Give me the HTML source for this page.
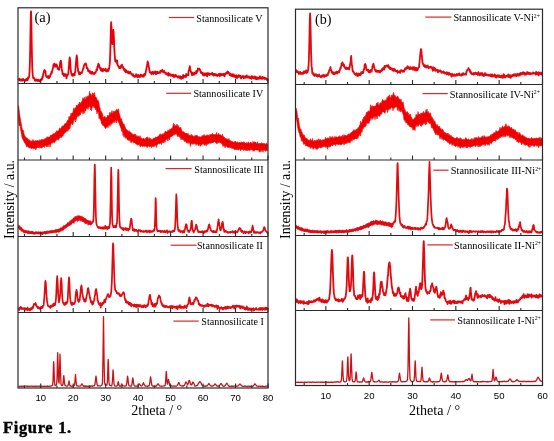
<!DOCTYPE html><html><head><meta charset="utf-8"><style>html,body{margin:0;padding:0;background:#fff;width:554px;height:441px;overflow:hidden}svg{display:block;filter:blur(0.35px)}</style></head><body><svg width="554" height="441" viewBox="0 0 554 441">
<rect width="554" height="441" fill="#ffffff"/>
<path d="M18.50,105.67 19.00,108.92 19.50,112.59 20.00,116.61 20.50,120.12 21.00,122.46 21.50,124.63 22.00,127.95 22.50,130.17 23.00,129.72 23.50,130.77 24.00,133.86 24.50,135.22 25.00,135.92 25.50,137.08 26.00,138.12 26.50,137.83 27.00,137.83 27.50,139.09 28.00,138.64 28.50,139.15 29.00,140.64 29.50,140.32 30.00,139.85 30.50,141.63 31.00,141.50 31.50,140.69 32.00,142.06 32.50,140.35 33.00,139.41 33.50,141.29 34.00,141.19 34.50,141.00 35.00,140.67 35.50,140.37 36.00,141.20 36.50,140.88 37.00,140.88 37.50,140.16 38.00,141.08 38.50,140.90 39.00,140.98 39.50,139.64 40.00,140.78 40.50,140.69 41.00,139.44 41.50,140.37 42.00,138.91 42.50,140.17 43.00,140.01 43.50,139.44 44.00,139.44 44.50,138.97 45.00,138.78 45.50,138.49 46.00,138.08 46.50,138.43 47.00,136.71 47.50,138.03 48.00,136.64 48.50,137.79 49.00,137.08 49.50,136.91 50.00,137.03 50.50,134.91 51.00,135.56 51.50,135.47 52.00,134.59 52.50,134.88 53.00,133.63 53.50,133.88 54.00,133.29 54.50,134.30 55.00,133.26 55.50,132.19 56.00,132.95 56.50,130.67 57.00,131.99 57.50,130.92 58.00,131.08 58.50,130.89 59.00,129.82 59.50,127.88 60.00,128.77 60.50,128.66 61.00,128.99 61.50,127.01 62.00,126.17 62.50,126.46 63.00,125.60 63.50,126.35 64.00,125.28 64.50,124.10 65.00,123.33 65.50,123.82 66.00,123.61 66.50,122.55 67.00,121.32 67.50,120.29 68.00,120.52 68.50,119.94 69.00,116.30 69.50,118.47 70.00,116.12 70.50,116.57 71.00,113.03 71.50,115.09 72.00,113.08 72.50,113.23 73.00,111.99 73.50,108.64 74.00,107.74 74.50,110.22 75.00,108.20 75.50,108.30 76.00,106.92 76.50,105.02 77.00,105.55 77.50,106.30 78.00,104.64 78.50,103.76 79.00,104.71 79.50,102.02 80.00,103.20 80.50,103.23 81.00,102.43 81.50,102.47 82.00,101.10 82.50,99.61 83.00,97.59 83.50,100.31 84.00,98.55 84.50,97.29 85.00,99.87 85.50,99.34 86.00,96.40 86.50,98.54 87.00,97.45 87.50,96.02 88.00,96.18 88.50,95.91 89.00,96.28 89.50,91.18 90.00,95.07 90.50,93.62 91.00,94.35 91.50,95.48 92.00,95.71 92.50,92.85 93.00,93.12 93.50,95.74 94.00,92.95 94.50,92.60 95.00,96.33 95.50,97.01 96.00,97.00 96.50,97.90 97.00,99.34 97.50,101.09 98.00,100.24 98.50,101.28 99.00,103.59 99.50,106.85 100.00,108.00 100.50,110.22 101.00,111.46 101.50,111.75 102.00,113.13 102.50,113.86 103.00,116.90 103.50,117.81 104.00,116.96 104.50,116.56 105.00,116.44 105.50,117.72 106.00,118.12 106.50,117.47 107.00,117.37 107.50,115.01 108.00,116.51 108.50,115.56 109.00,116.22 109.50,113.57 110.00,112.04 110.50,114.55 111.00,113.58 111.50,112.58 112.00,110.53 112.50,113.62 113.00,113.22 113.50,111.22 114.00,111.18 114.50,111.96 115.00,110.97 115.50,111.33 116.00,110.27 116.50,109.16 117.00,110.87 117.50,109.61 118.00,110.88 118.50,108.74 119.00,112.72 119.50,114.13 120.00,116.11 120.50,118.21 121.00,119.23 121.50,118.47 122.00,121.58 122.50,121.67 123.00,123.53 123.50,124.18 124.00,123.92 124.50,125.40 125.00,126.41 125.50,128.36 126.00,128.70 126.50,129.59 127.00,130.07 127.50,130.04 128.00,131.75 128.50,131.78 129.00,130.56 129.50,131.91 130.00,131.96 130.50,132.15 131.00,132.50 131.50,133.00 132.00,134.23 132.50,133.83 133.00,134.92 133.50,134.33 134.00,135.41 134.50,133.94 135.00,135.80 135.50,134.04 136.00,136.20 136.50,135.58 137.00,137.13 137.50,136.95 138.00,135.59 138.50,136.85 139.00,136.69 139.50,137.53 140.00,135.60 140.50,137.74 141.00,138.26 141.50,138.14 142.00,138.25 142.50,139.23 143.00,138.44 143.50,138.36 144.00,138.55 144.50,139.02 145.00,139.39 145.50,138.36 146.00,139.04 146.50,137.07 147.00,139.32 147.50,136.84 148.00,138.47 148.50,139.59 149.00,137.49 149.50,138.77 150.00,138.76 150.50,138.44 151.00,139.57 151.50,139.21 152.00,139.19 152.50,139.39 153.00,139.02 153.50,138.09 154.00,138.42 154.50,138.58 155.00,137.43 155.50,137.42 156.00,136.83 156.50,137.62 157.00,137.17 157.50,136.74 158.00,136.96 158.50,135.78 159.00,136.73 159.50,134.28 160.00,136.31 160.50,133.76 161.00,135.14 161.50,134.69 162.00,134.81 162.50,133.89 163.00,133.51 163.50,134.39 164.00,133.20 164.50,133.08 165.00,132.09 165.50,131.10 166.00,131.17 166.50,131.88 167.00,132.08 167.50,131.70 168.00,129.67 168.50,130.95 169.00,130.72 169.50,130.09 170.00,128.76 170.50,129.55 171.00,129.20 171.50,128.18 172.00,128.39 172.50,127.51 173.00,125.97 173.50,123.06 174.00,125.13 174.50,124.46 175.00,126.16 175.50,125.54 176.00,125.83 176.50,125.35 177.00,124.10 177.50,125.47 178.00,126.69 178.50,125.68 179.00,127.35 179.50,127.93 180.00,127.95 180.50,127.06 181.00,127.90 181.50,130.03 182.00,130.64 182.50,131.61 183.00,132.13 183.50,131.40 184.00,132.83 184.50,132.39 185.00,132.66 185.50,133.86 186.00,133.31 186.50,133.49 187.00,133.50 187.50,134.48 188.00,133.10 188.50,135.14 189.00,135.09 189.50,135.68 190.00,134.63 190.50,135.67 191.00,135.95 191.50,134.28 192.00,135.74 192.50,135.21 193.00,135.88 193.50,136.46 194.00,136.46 194.50,135.74 195.00,136.53 195.50,135.25 196.00,136.13 196.50,134.88 197.00,136.22 197.50,135.83 198.00,136.13 198.50,136.86 199.00,137.22 199.50,136.67 200.00,136.40 200.50,137.03 201.00,137.19 201.50,136.96 202.00,135.66 202.50,136.30 203.00,135.18 203.50,137.06 204.00,134.35 204.50,136.05 205.00,135.83 205.50,135.95 206.00,135.55 206.50,136.08 207.00,134.63 207.50,135.26 208.00,135.15 208.50,135.12 209.00,135.46 209.50,136.11 210.00,134.27 210.50,135.31 211.00,134.45 211.50,134.24 212.00,133.74 212.50,133.32 213.00,135.00 213.50,134.57 214.00,134.12 214.50,134.66 215.00,134.43 215.50,134.41 216.00,134.82 216.50,132.42 217.00,134.84 217.50,134.98 218.00,134.55 218.50,133.26 219.00,134.35 219.50,135.11 220.00,134.78 220.50,134.83 221.00,135.32 221.50,135.87 222.00,135.59 222.50,134.21 223.00,137.27 223.50,136.38 224.00,137.29 224.50,137.44 225.00,138.01 225.50,138.79 226.00,138.60 226.50,139.56 227.00,138.52 227.50,139.29 228.00,139.97 228.50,139.58 229.00,138.50 229.50,141.24 230.00,140.13 230.50,141.53 231.00,140.86 231.50,141.45 232.00,140.93 232.50,141.85 233.00,142.36 233.50,141.97 234.00,142.54 234.50,141.44 235.00,142.71 235.50,141.09 236.00,142.08 236.50,142.79 237.00,142.46 237.50,141.67 238.00,142.22 238.50,143.17 239.00,142.55 239.50,141.94 240.00,142.95 240.50,143.10 241.00,141.96 241.50,141.93 242.00,142.31 242.50,142.49 243.00,142.30 243.50,142.19 244.00,141.63 244.50,142.28 245.00,143.06 245.50,143.33 246.00,143.06 246.50,142.40 247.00,143.39 247.50,142.70 248.00,143.43 248.50,142.01 249.00,142.38 249.50,143.48 250.00,142.60 250.50,142.49 251.00,141.98 251.50,143.29 252.00,143.52 252.50,143.55 253.00,141.36 253.50,142.18 254.00,142.72 254.50,141.63 255.00,142.61 255.50,141.97 256.00,142.36 256.50,143.66 257.00,143.36 257.50,141.74 258.00,143.51 258.50,143.71 259.00,143.30 259.50,143.65 260.00,143.18 260.50,143.53 261.00,142.97 261.50,142.74 262.00,143.97 262.50,143.50 263.00,143.02 263.50,143.33 264.00,144.23 264.50,143.55 265.00,143.47 265.50,144.16 266.00,144.12 266.50,143.21 267.00,143.19 267.50,144.54 267.50,150.59 267.00,150.15 266.50,150.19 266.00,151.47 265.50,151.09 265.00,150.87 264.50,150.58 264.00,149.84 263.50,150.48 263.00,152.22 262.50,150.20 262.00,150.49 261.50,149.79 261.00,152.03 260.50,150.14 260.00,150.77 259.50,152.21 259.00,151.65 258.50,149.54 258.00,150.30 257.50,149.93 257.00,150.01 256.50,150.02 256.00,149.95 255.50,149.68 255.00,150.19 254.50,150.54 254.00,151.42 253.50,150.57 253.00,151.19 252.50,149.69 252.00,149.66 251.50,149.42 251.00,149.73 250.50,149.87 250.00,149.73 249.50,150.67 249.00,150.33 248.50,149.85 248.00,150.67 247.50,149.12 247.00,150.99 246.50,149.64 246.00,150.41 245.50,150.32 245.00,149.56 244.50,149.51 244.00,150.38 243.50,150.31 243.00,149.28 242.50,149.86 242.00,149.20 241.50,148.96 241.00,150.60 240.50,150.78 240.00,148.97 239.50,149.08 239.00,149.24 238.50,150.05 238.00,150.22 237.50,149.79 237.00,148.75 236.50,149.42 236.00,150.00 235.50,148.96 235.00,149.08 234.50,149.88 234.00,148.85 233.50,148.72 233.00,148.19 232.50,147.98 232.00,148.78 231.50,147.75 231.00,147.82 230.50,147.65 230.00,147.35 229.50,147.56 229.00,147.45 228.50,147.44 228.00,147.18 227.50,147.36 227.00,147.31 226.50,146.10 226.00,146.59 225.50,145.78 225.00,147.91 224.50,145.95 224.00,144.87 223.50,145.88 223.00,146.45 222.50,144.94 222.00,143.32 221.50,143.60 221.00,142.91 220.50,142.72 220.00,142.89 219.50,142.28 219.00,142.15 218.50,142.64 218.00,142.69 217.50,141.76 217.00,144.14 216.50,143.09 216.00,142.97 215.50,142.20 215.00,142.30 214.50,141.74 214.00,141.91 213.50,142.43 213.00,142.87 212.50,142.31 212.00,143.14 211.50,142.83 211.00,143.06 210.50,142.96 210.00,143.68 209.50,142.76 209.00,142.67 208.50,143.90 208.00,143.49 207.50,144.52 207.00,143.08 206.50,145.63 206.00,144.39 205.50,144.12 205.00,145.72 204.50,144.26 204.00,144.86 203.50,143.43 203.00,143.88 202.50,143.94 202.00,143.83 201.50,145.19 201.00,143.86 200.50,146.31 200.00,145.99 199.50,143.87 199.00,144.97 198.50,146.00 198.00,144.36 197.50,144.32 197.00,143.72 196.50,144.19 196.00,145.55 195.50,143.37 195.00,143.94 194.50,143.44 194.00,143.63 193.50,143.95 193.00,143.51 192.50,144.37 192.00,143.59 191.50,143.13 191.00,144.24 190.50,146.45 190.00,143.94 189.50,142.98 189.00,142.53 188.50,142.58 188.00,143.75 187.50,142.23 187.00,142.59 186.50,143.22 186.00,141.43 185.50,140.92 185.00,141.93 184.50,141.35 184.00,140.02 183.50,140.04 183.00,139.61 182.50,139.43 182.00,138.59 181.50,138.07 181.00,140.04 180.50,138.07 180.00,136.03 179.50,137.37 179.00,135.27 178.50,135.60 178.00,136.96 177.50,135.42 177.00,135.42 176.50,133.77 176.00,133.75 175.50,134.10 175.00,134.15 174.50,134.63 174.00,135.18 173.50,134.81 173.00,135.61 172.50,135.73 172.00,136.07 171.50,136.50 171.00,136.92 170.50,136.90 170.00,137.28 169.50,139.97 169.00,137.83 168.50,138.65 168.00,140.95 167.50,140.36 167.00,138.99 166.50,139.48 166.00,139.64 165.50,140.09 165.00,142.34 164.50,140.68 164.00,142.60 163.50,141.69 163.00,142.95 162.50,141.75 162.00,142.18 161.50,144.53 161.00,143.40 160.50,143.03 160.00,143.56 159.50,144.19 159.00,143.43 158.50,143.55 158.00,143.98 157.50,144.34 157.00,145.09 156.50,147.43 156.00,145.18 155.50,145.36 155.00,145.30 154.50,146.47 154.00,145.49 153.50,146.86 153.00,145.71 152.50,146.60 152.00,145.64 151.50,147.77 151.00,146.04 150.50,145.65 150.00,147.10 149.50,146.66 149.00,146.45 148.50,145.90 148.00,146.37 147.50,147.13 147.00,147.54 146.50,147.08 146.00,146.37 145.50,145.65 145.00,146.61 144.50,146.25 144.00,146.01 143.50,146.19 143.00,146.31 142.50,146.66 142.00,146.12 141.50,145.41 141.00,145.94 140.50,146.89 140.00,146.42 139.50,144.99 139.00,144.42 138.50,144.16 138.00,145.44 137.50,145.05 137.00,144.25 136.50,144.13 136.00,143.99 135.50,143.20 135.00,143.37 134.50,142.67 134.00,142.53 133.50,142.87 133.00,142.39 132.50,141.83 132.00,141.45 131.50,142.22 131.00,142.91 130.50,141.58 130.00,139.99 129.50,140.49 129.00,139.74 128.50,140.52 128.00,138.72 127.50,140.14 127.00,138.74 126.50,137.89 126.00,137.50 125.50,138.34 125.00,136.64 124.50,134.42 124.00,137.47 123.50,132.56 123.00,135.53 122.50,130.58 122.00,131.55 121.50,131.13 121.00,128.10 120.50,127.51 120.00,125.67 119.50,125.04 119.00,122.46 118.50,122.54 118.00,120.90 117.50,120.23 117.00,120.71 116.50,122.92 116.00,120.53 115.50,120.11 115.00,122.35 114.50,121.71 114.00,122.73 113.50,121.40 113.00,122.09 112.50,123.20 112.00,123.38 111.50,124.47 111.00,123.07 110.50,123.67 110.00,126.43 109.50,123.95 109.00,125.33 108.50,125.35 108.00,127.84 107.50,125.96 107.00,126.62 106.50,127.28 106.00,128.36 105.50,128.55 105.00,128.13 104.50,126.45 104.00,126.59 103.50,125.84 103.00,125.03 102.50,125.28 102.00,123.45 101.50,123.68 101.00,120.84 100.50,120.04 100.00,118.97 99.50,117.07 99.00,118.57 98.50,112.49 98.00,112.30 97.50,112.06 97.00,113.90 96.50,110.91 96.00,108.58 95.50,109.80 95.00,107.56 94.50,107.45 94.00,107.48 93.50,107.20 93.00,106.06 92.50,106.05 92.00,108.20 91.50,111.04 91.00,105.94 90.50,110.04 90.00,106.54 89.50,106.41 89.00,106.62 88.50,108.05 88.00,109.61 87.50,107.51 87.00,108.12 86.50,108.77 86.00,109.49 85.50,111.19 85.00,109.47 84.50,112.25 84.00,113.54 83.50,110.51 83.00,113.92 82.50,112.10 82.00,111.12 81.50,112.46 81.00,111.81 80.50,114.94 80.00,114.59 79.50,115.29 79.00,116.07 78.50,114.70 78.00,116.89 77.50,115.19 77.00,116.30 76.50,119.36 76.00,118.58 75.50,121.93 75.00,120.42 74.50,119.31 74.00,119.80 73.50,122.09 73.00,123.92 72.50,124.80 72.00,123.17 71.50,123.36 71.00,124.26 70.50,125.48 70.00,128.34 69.50,129.21 69.00,128.18 68.50,130.27 68.00,130.63 67.50,130.61 67.00,131.42 66.50,130.81 66.00,132.29 65.50,132.30 65.00,132.74 64.50,132.93 64.00,134.01 63.50,134.03 63.00,135.97 62.50,135.89 62.00,136.73 61.50,137.56 61.00,136.29 60.50,137.46 60.00,138.06 59.50,137.60 59.00,139.04 58.50,140.31 58.00,138.67 57.50,139.73 57.00,139.21 56.50,139.99 56.00,140.66 55.50,140.69 55.00,141.90 54.50,142.82 54.00,142.74 53.50,141.83 53.00,142.41 52.50,143.09 52.00,142.86 51.50,142.97 51.00,143.57 50.50,145.28 50.00,147.21 49.50,144.28 49.00,144.20 48.50,145.53 48.00,146.98 47.50,145.81 47.00,145.40 46.50,147.02 46.00,145.54 45.50,146.12 45.00,145.45 44.50,147.52 44.00,146.07 43.50,146.82 43.00,146.29 42.50,147.62 42.00,147.75 41.50,148.30 41.00,147.27 40.50,147.69 40.00,146.74 39.50,148.17 39.00,147.12 38.50,147.48 38.00,147.73 37.50,147.32 37.00,148.12 36.50,147.66 36.00,149.82 35.50,149.45 35.00,148.03 34.50,148.59 34.00,148.69 33.50,148.50 33.00,148.08 32.50,148.18 32.00,148.06 31.50,148.94 31.00,148.29 30.50,147.80 30.00,147.64 29.50,147.79 29.00,147.93 28.50,146.65 28.00,147.34 27.50,146.02 27.00,145.65 26.50,146.96 26.00,144.93 25.50,143.93 25.00,143.33 24.50,142.86 24.00,141.71 23.50,140.66 23.00,139.57 22.50,138.82 22.00,137.45 21.50,134.22 21.00,131.67 20.50,129.41 20.00,125.13 19.50,125.95 19.00,125.24 18.50,118.36Z" fill="#f00000" stroke="#f00000" stroke-width="0.6"/>
<path d="M18.50,225.10 19.00,225.82 19.50,225.92 20.00,226.44 20.50,227.18 21.00,226.79 21.50,227.65 22.00,228.85 22.50,228.88 23.00,229.38 23.50,230.17 24.00,230.31 24.50,230.34 25.00,230.32 25.50,230.82 26.00,230.80 26.50,231.03 27.00,230.94 27.50,231.12 28.00,230.92 28.50,231.30 29.00,231.41 29.50,231.60 30.00,231.35 30.50,231.67 31.00,231.36 31.50,231.72 32.00,231.44 32.50,231.99 33.00,231.90 33.50,232.09 34.00,231.96 34.50,232.14 35.00,231.89 35.50,231.75 36.00,232.19 36.50,232.10 37.00,232.04 37.50,232.25 38.00,232.15 38.50,232.23 39.00,232.17 39.50,232.22 40.00,232.12 40.50,231.87 41.00,231.95 41.50,231.95 42.00,231.99 42.50,231.75 43.00,232.07 43.50,231.93 44.00,231.92 44.50,231.57 45.00,231.62 45.50,231.46 46.00,230.99 46.50,231.39 47.00,231.11 47.50,231.02 48.00,231.40 48.50,231.27 49.00,231.05 49.50,231.14 50.00,230.66 50.50,230.72 51.00,230.79 51.50,230.71 52.00,230.56 52.50,230.76 53.00,230.68 53.50,230.53 54.00,230.55 54.50,230.28 55.00,230.04 55.50,229.93 56.00,228.85 56.50,229.93 57.00,229.45 57.50,229.55 58.00,229.60 58.50,229.07 59.00,228.85 59.50,229.07 60.00,228.96 60.50,228.83 61.00,228.21 61.50,228.18 62.00,227.86 62.50,226.57 63.00,227.36 63.50,226.76 64.00,226.18 64.50,225.79 65.00,225.75 65.50,225.06 66.00,224.60 66.50,224.52 67.00,223.67 67.50,222.58 68.00,223.32 68.50,222.96 69.00,222.67 69.50,221.32 70.00,221.15 70.50,221.40 71.00,221.13 71.50,220.05 72.00,219.23 72.50,219.58 73.00,218.62 73.50,218.28 74.00,218.60 74.50,216.65 75.00,217.82 75.50,216.41 76.00,215.80 76.50,217.00 77.00,216.17 77.50,216.53 78.00,215.24 78.50,216.27 79.00,215.94 79.50,215.84 80.00,215.83 80.50,216.34 81.00,216.47 81.50,216.17 82.00,216.33 82.50,216.74 83.00,217.29 83.50,217.50 84.00,217.59 84.50,218.59 85.00,218.45 85.50,218.76 86.00,218.82 86.50,219.82 87.00,219.86 87.50,220.30 88.00,220.63 88.50,220.63 89.00,221.03 89.50,220.79 90.00,221.58 90.50,221.45 91.00,221.74 91.00,225.25 90.50,224.98 90.00,224.61 89.50,224.59 89.00,224.89 88.50,224.38 88.00,225.37 87.50,223.49 87.00,223.26 86.50,223.72 86.00,222.97 85.50,223.36 85.00,222.06 84.50,223.34 84.00,222.48 83.50,221.21 83.00,221.02 82.50,221.51 82.00,221.44 81.50,221.17 81.00,220.10 80.50,220.93 80.00,221.17 79.50,219.74 79.00,220.06 78.50,220.96 78.00,220.27 77.50,221.63 77.00,220.07 76.50,220.48 76.00,220.83 75.50,220.86 75.00,221.78 74.50,221.56 74.00,223.62 73.50,222.63 73.00,222.51 72.50,222.98 72.00,223.35 71.50,224.20 71.00,224.05 70.50,224.95 70.00,225.16 69.50,225.41 69.00,225.83 68.50,226.21 68.00,226.00 67.50,226.36 67.00,227.37 66.50,227.03 66.00,228.17 65.50,228.08 65.00,228.32 64.50,228.64 64.00,229.26 63.50,229.37 63.00,230.49 62.50,229.85 62.00,230.31 61.50,231.21 61.00,230.64 60.50,231.07 60.00,231.27 59.50,231.95 59.00,231.53 58.50,231.45 58.00,232.13 57.50,231.81 57.00,232.21 56.50,232.04 56.00,232.00 55.50,232.87 55.00,232.26 54.50,232.73 54.00,232.53 53.50,232.51 53.00,233.06 52.50,232.66 52.00,232.89 51.50,232.88 51.00,232.70 50.50,232.86 50.00,233.03 49.50,233.10 49.00,232.93 48.50,233.00 48.00,233.33 47.50,233.38 47.00,233.47 46.50,233.35 46.00,233.34 45.50,233.53 45.00,233.61 44.50,233.59 44.00,233.78 43.50,233.77 43.00,233.60 42.50,233.59 42.00,233.98 41.50,233.77 41.00,233.81 40.50,233.86 40.00,233.97 39.50,234.15 39.00,234.06 38.50,234.07 38.00,234.12 37.50,233.91 37.00,233.79 36.50,233.69 36.00,233.96 35.50,233.88 35.00,233.75 34.50,233.88 34.00,233.83 33.50,233.76 33.00,233.58 32.50,233.50 32.00,233.81 31.50,233.68 31.00,233.53 30.50,233.28 30.00,233.82 29.50,233.71 29.00,233.16 28.50,233.07 28.00,232.98 27.50,233.14 27.00,232.98 26.50,232.76 26.00,232.82 25.50,232.83 25.00,232.52 24.50,232.59 24.00,233.37 23.50,232.11 23.00,231.70 22.50,231.60 22.00,231.13 21.50,230.73 21.00,230.24 20.50,230.00 20.00,229.36 19.50,229.42 19.00,228.26 18.50,228.15Z" fill="#e80a10" stroke="#e80a10" stroke-width="0.6"/>
<path d="M296.00,108.14 296.50,109.87 297.00,111.78 297.50,116.07 298.00,119.72 298.50,118.04 299.00,123.01 299.50,125.71 300.00,128.18 300.50,129.65 301.00,129.03 301.50,132.11 302.00,132.05 302.50,134.03 303.00,134.91 303.50,134.67 304.00,135.52 304.50,135.39 305.00,137.42 305.50,137.63 306.00,138.99 306.50,137.95 307.00,139.08 307.50,139.15 308.00,139.55 308.50,140.08 309.00,140.32 309.50,140.65 310.00,139.64 310.50,138.69 311.00,140.72 311.50,140.27 312.00,141.19 312.50,138.38 313.00,140.76 313.50,141.36 314.00,141.52 314.50,140.20 315.00,141.47 315.50,140.83 316.00,140.11 316.50,141.39 317.00,139.59 317.50,140.89 318.00,140.53 318.50,138.73 319.00,141.26 319.50,139.58 320.00,140.58 320.50,139.35 321.00,140.45 321.50,140.19 322.00,140.13 322.50,140.28 323.00,139.41 323.50,139.94 324.00,139.98 324.50,139.75 325.00,139.32 325.50,137.35 326.00,138.90 326.50,138.59 327.00,138.65 327.50,137.70 328.00,138.72 328.50,137.88 329.00,138.13 329.50,138.59 330.00,136.16 330.50,138.37 331.00,137.73 331.50,137.47 332.00,136.49 332.50,136.72 333.00,138.25 333.50,138.20 334.00,137.61 334.50,136.99 335.00,136.29 335.50,137.46 336.00,137.21 336.50,137.09 337.00,136.75 337.50,137.37 338.00,137.16 338.50,136.55 339.00,137.22 339.50,135.63 340.00,137.11 340.50,136.72 341.00,136.51 341.50,136.60 342.00,135.42 342.50,135.22 343.00,137.13 343.50,136.78 344.00,134.38 344.50,136.69 345.00,135.07 345.50,136.37 346.00,135.17 346.50,136.19 347.00,135.59 347.50,135.21 348.00,134.51 348.50,133.71 349.00,134.47 349.50,134.07 350.00,133.54 350.50,133.22 351.00,132.64 351.50,132.48 352.00,131.81 352.50,131.41 353.00,131.19 353.50,130.59 354.00,129.38 354.50,130.67 355.00,130.64 355.50,130.06 356.00,130.01 356.50,128.84 357.00,129.46 357.50,128.80 358.00,127.62 358.50,128.20 359.00,126.70 359.50,125.07 360.00,125.71 360.50,121.27 361.00,124.51 361.50,122.46 362.00,122.11 362.50,119.41 363.00,120.59 363.50,117.25 364.00,118.02 364.50,116.33 365.00,117.65 365.50,115.16 366.00,114.51 366.50,112.04 367.00,113.53 367.50,111.82 368.00,111.69 368.50,110.70 369.00,111.65 369.50,111.09 370.00,110.27 370.50,104.76 371.00,109.34 371.50,105.77 372.00,108.29 372.50,105.67 373.00,105.90 373.50,106.66 374.00,106.60 374.50,105.96 375.00,106.01 375.50,106.24 376.00,105.29 376.50,103.09 377.00,103.67 377.50,102.99 378.00,102.11 378.50,105.15 379.00,104.94 379.50,104.45 380.00,102.78 380.50,102.82 381.00,102.98 381.50,103.53 382.00,100.85 382.50,99.38 383.00,101.08 383.50,100.67 384.00,100.66 384.50,101.35 385.00,99.79 385.50,100.33 386.00,100.54 386.50,99.69 387.00,97.36 387.50,99.18 388.00,96.04 388.50,96.09 389.00,98.14 389.50,94.69 390.00,97.25 390.50,97.26 391.00,97.69 391.50,94.95 392.00,96.85 392.50,94.71 393.00,95.68 393.50,92.18 394.00,94.24 394.50,96.10 395.00,95.16 395.50,96.85 396.00,96.70 396.50,97.20 397.00,97.50 397.50,95.99 398.00,96.24 398.50,98.35 399.00,98.50 399.50,99.09 400.00,99.87 400.50,100.92 401.00,98.98 401.50,101.56 402.00,102.22 402.50,103.41 403.00,101.76 403.50,103.71 404.00,107.46 404.50,109.11 405.00,110.04 405.50,110.83 406.00,112.31 406.50,111.98 407.00,113.57 407.50,111.55 408.00,113.71 408.50,112.94 409.00,116.00 409.50,114.44 410.00,115.85 410.50,114.23 411.00,117.10 411.50,117.24 412.00,119.37 412.50,119.16 413.00,119.32 413.50,119.91 414.00,118.67 414.50,117.85 415.00,118.08 415.50,117.76 416.00,114.37 416.50,114.86 417.00,115.30 417.50,115.23 418.00,111.55 418.50,113.91 419.00,114.74 419.50,113.90 420.00,115.12 420.50,113.99 421.00,112.79 421.50,114.53 422.00,112.93 422.50,113.73 423.00,112.30 423.50,111.32 424.00,113.90 424.50,113.12 425.00,112.21 425.50,112.58 426.00,109.86 426.50,111.97 427.00,108.97 427.50,112.77 428.00,112.39 428.50,111.60 429.00,112.95 429.50,113.63 430.00,113.99 430.50,112.79 431.00,115.74 431.50,116.77 432.00,118.29 432.50,117.66 433.00,119.01 433.50,119.70 434.00,122.16 434.50,120.77 435.00,121.51 435.50,123.55 436.00,124.33 436.50,125.06 437.00,125.52 437.50,124.57 438.00,126.77 438.50,126.76 439.00,126.21 439.50,126.25 440.00,128.23 440.50,128.98 441.00,128.34 441.50,130.14 442.00,129.82 442.50,128.92 443.00,130.11 443.50,130.88 444.00,132.40 444.50,132.03 445.00,132.89 445.50,132.71 446.00,133.39 446.50,134.30 447.00,133.14 447.50,134.38 448.00,133.03 448.50,134.43 449.00,135.45 449.50,134.42 450.00,135.57 450.50,136.01 451.00,135.32 451.50,136.11 452.00,136.93 452.50,136.92 453.00,137.77 453.50,137.45 454.00,137.78 454.50,138.06 455.00,138.55 455.50,138.72 456.00,138.15 456.50,138.06 457.00,136.93 457.50,138.22 458.00,139.42 458.50,138.30 459.00,138.63 459.50,139.05 460.00,137.63 460.50,137.93 461.00,139.62 461.50,138.63 462.00,139.28 462.50,139.85 463.00,139.75 463.50,139.21 464.00,139.46 464.50,139.91 465.00,139.12 465.50,137.90 466.00,137.57 466.50,139.09 467.00,139.28 467.50,139.41 468.00,140.05 468.50,138.80 469.00,139.17 469.50,139.90 470.00,139.99 470.50,139.71 471.00,139.18 471.50,139.28 472.00,138.20 472.50,139.63 473.00,139.64 473.50,139.41 474.00,138.35 474.50,138.62 475.00,137.29 475.50,138.57 476.00,137.48 476.50,137.63 477.00,138.26 477.50,138.11 478.00,138.05 478.50,136.58 479.00,137.21 479.50,138.15 480.00,137.69 480.50,137.85 481.00,138.09 481.50,136.69 482.00,136.39 482.50,135.93 483.00,137.14 483.50,137.81 484.00,135.43 484.50,136.13 485.00,136.96 485.50,137.08 486.00,137.42 486.50,137.42 487.00,136.42 487.50,137.09 488.00,137.23 488.50,136.26 489.00,136.84 489.50,136.39 490.00,136.32 490.50,134.68 491.00,135.61 491.50,134.91 492.00,133.85 492.50,134.56 493.00,133.59 493.50,133.86 494.00,132.23 494.50,132.74 495.00,133.01 495.50,132.47 496.00,130.45 496.50,131.02 497.00,131.54 497.50,131.64 498.00,131.31 498.50,131.06 499.00,130.48 499.50,129.73 500.00,127.24 500.50,129.38 501.00,128.49 501.50,127.87 502.00,127.52 502.50,125.80 503.00,127.05 503.50,127.53 504.00,126.74 504.50,126.78 505.00,126.53 505.50,124.33 506.00,123.76 506.50,126.21 507.00,126.64 507.50,127.25 508.00,125.47 508.50,126.61 509.00,126.22 509.50,126.45 510.00,127.22 510.50,128.68 511.00,127.79 511.50,127.28 512.00,128.52 512.50,129.13 513.00,130.00 513.50,128.99 514.00,129.22 514.50,130.53 515.00,130.87 515.50,129.71 516.00,132.30 516.50,132.08 517.00,132.31 517.50,132.85 518.00,131.76 518.50,134.43 519.00,134.35 519.50,132.48 520.00,133.78 520.50,133.91 521.00,135.69 521.50,135.64 522.00,136.12 522.50,134.64 523.00,135.18 523.50,135.85 524.00,136.72 524.50,136.67 525.00,136.42 525.50,137.50 526.00,137.61 526.50,137.69 527.00,138.13 527.50,138.21 528.00,137.97 528.50,138.06 529.00,138.58 529.50,138.80 530.00,138.60 530.50,138.74 531.00,138.15 531.50,137.43 532.00,138.88 532.50,138.32 533.00,138.36 533.50,138.84 534.00,138.15 534.50,138.40 535.00,138.46 535.50,137.94 536.00,138.49 536.50,137.87 537.00,138.09 537.50,138.21 538.00,138.93 538.50,137.90 539.00,137.75 539.50,138.41 540.00,136.87 540.50,138.77 541.00,138.69 541.50,138.00 542.00,137.83 542.00,145.61 541.50,145.59 541.00,145.65 540.50,145.91 540.00,145.90 539.50,145.82 539.00,145.57 538.50,147.80 538.00,145.66 537.50,145.65 537.00,146.15 536.50,145.83 536.00,145.43 535.50,145.07 535.00,144.88 534.50,146.52 534.00,145.18 533.50,146.39 533.00,145.54 532.50,145.24 532.00,145.33 531.50,146.10 531.00,145.09 530.50,145.56 530.00,147.32 529.50,145.01 529.00,147.55 528.50,145.15 528.00,146.03 527.50,145.18 527.00,144.42 526.50,144.96 526.00,144.89 525.50,145.36 525.00,144.00 524.50,145.12 524.00,144.63 523.50,143.41 523.00,143.12 522.50,143.84 522.00,143.60 521.50,144.77 521.00,142.40 520.50,142.27 520.00,142.15 519.50,141.53 519.00,142.60 518.50,142.71 518.00,141.21 517.50,140.99 517.00,142.23 516.50,139.73 516.00,139.97 515.50,139.93 515.00,138.80 514.50,138.59 514.00,137.92 513.50,138.69 513.00,137.74 512.50,137.85 512.00,136.64 511.50,137.52 511.00,136.25 510.50,136.73 510.00,138.03 509.50,136.58 509.00,135.31 508.50,135.25 508.00,136.42 507.50,135.35 507.00,135.45 506.50,134.48 506.00,136.11 505.50,137.03 505.00,136.51 504.50,136.41 504.00,134.82 503.50,136.04 503.00,137.21 502.50,135.64 502.00,136.18 501.50,136.86 501.00,136.51 500.50,137.39 500.00,137.90 499.50,137.36 499.00,138.71 498.50,138.40 498.00,138.48 497.50,139.73 497.00,138.75 496.50,139.42 496.00,139.28 495.50,141.23 495.00,141.35 494.50,140.42 494.00,140.97 493.50,140.72 493.00,141.50 492.50,141.59 492.00,142.14 491.50,143.68 491.00,142.25 490.50,143.28 490.00,143.15 489.50,143.94 489.00,145.45 488.50,144.01 488.00,144.10 487.50,145.23 487.00,144.12 486.50,143.87 486.00,144.38 485.50,144.28 485.00,145.93 484.50,144.07 484.00,144.47 483.50,144.33 483.00,145.14 482.50,144.35 482.00,144.63 481.50,145.93 481.00,144.32 480.50,146.58 480.00,146.00 479.50,145.09 479.00,147.07 478.50,145.14 478.00,146.84 477.50,145.09 477.00,145.09 476.50,145.15 476.00,146.09 475.50,146.66 475.00,145.74 474.50,145.80 474.00,145.40 473.50,145.63 473.00,146.38 472.50,146.27 472.00,146.10 471.50,147.05 471.00,146.04 470.50,147.49 470.00,146.73 469.50,147.24 469.00,146.24 468.50,146.77 468.00,147.11 467.50,146.99 467.00,148.20 466.50,146.28 466.00,147.82 465.50,146.19 465.00,146.46 464.50,146.94 464.00,146.28 463.50,147.15 463.00,147.83 462.50,147.23 462.00,146.55 461.50,146.62 461.00,147.66 460.50,147.78 460.00,148.21 459.50,146.76 459.00,146.13 458.50,145.86 458.00,147.44 457.50,145.47 457.00,145.58 456.50,145.89 456.00,145.57 455.50,146.75 455.00,146.06 454.50,145.58 454.00,145.88 453.50,144.20 453.00,144.04 452.50,144.98 452.00,145.52 451.50,143.31 451.00,143.14 450.50,143.39 450.00,144.38 449.50,143.71 449.00,143.01 448.50,142.16 448.00,142.64 447.50,142.20 447.00,141.62 446.50,140.88 446.00,140.79 445.50,140.52 445.00,139.86 444.50,139.54 444.00,139.85 443.50,140.30 443.00,138.65 442.50,138.46 442.00,139.64 441.50,137.83 441.00,137.16 440.50,136.91 440.00,139.19 439.50,136.53 439.00,135.28 438.50,134.84 438.00,134.58 437.50,135.32 437.00,134.00 436.50,132.80 436.00,135.03 435.50,134.23 435.00,132.99 434.50,131.96 434.00,130.91 433.50,129.86 433.00,128.41 432.50,127.92 432.00,127.49 431.50,127.89 431.00,124.79 430.50,123.55 430.00,123.30 429.50,123.42 429.00,122.96 428.50,122.25 428.00,122.33 427.50,121.46 427.00,121.03 426.50,124.27 426.00,122.07 425.50,125.00 425.00,121.61 424.50,123.81 424.00,123.09 423.50,123.61 423.00,124.16 422.50,125.10 422.00,124.48 421.50,126.44 421.00,123.53 420.50,126.05 420.00,124.00 419.50,123.67 419.00,125.34 418.50,125.03 418.00,126.71 417.50,124.99 417.00,124.14 416.50,126.55 416.00,126.05 415.50,125.95 415.00,130.63 414.50,127.70 414.00,129.82 413.50,127.99 413.00,130.21 412.50,128.20 412.00,127.25 411.50,127.01 411.00,127.41 410.50,126.74 410.00,127.05 409.50,126.14 409.00,124.85 408.50,125.16 408.00,124.85 407.50,124.49 407.00,122.65 406.50,122.25 406.00,123.20 405.50,120.52 405.00,121.61 404.50,119.27 404.00,120.10 403.50,115.48 403.00,114.36 402.50,112.60 402.00,111.84 401.50,110.90 401.00,110.37 400.50,112.14 400.00,109.29 399.50,110.16 399.00,111.52 398.50,108.72 398.00,107.51 397.50,110.48 397.00,106.95 396.50,106.37 396.00,107.48 395.50,106.42 395.00,106.65 394.50,108.24 394.00,107.74 393.50,108.56 393.00,110.67 392.50,108.35 392.00,107.25 391.50,107.07 391.00,108.37 390.50,108.31 390.00,109.55 389.50,108.96 389.00,108.15 388.50,110.10 388.00,110.04 387.50,112.51 387.00,109.12 386.50,109.75 386.00,109.59 385.50,111.14 385.00,113.51 384.50,112.38 384.00,112.47 383.50,111.82 383.00,112.07 382.50,111.70 382.00,112.48 381.50,114.00 381.00,114.45 380.50,113.63 380.00,116.21 379.50,116.25 379.00,115.77 378.50,115.54 378.00,115.02 377.50,117.08 377.00,119.06 376.50,116.93 376.00,116.23 375.50,116.21 375.00,119.72 374.50,116.67 374.00,115.78 373.50,117.87 373.00,118.36 372.50,118.99 372.00,119.62 371.50,118.12 371.00,117.97 370.50,118.96 370.00,120.87 369.50,121.04 369.00,123.33 368.50,122.05 368.00,123.94 367.50,122.55 367.00,123.31 366.50,123.60 366.00,126.21 365.50,126.33 365.00,126.43 364.50,126.74 364.00,127.21 363.50,128.40 363.00,128.52 362.50,129.23 362.00,132.63 361.50,131.12 361.00,131.85 360.50,136.03 360.00,133.42 359.50,134.70 359.00,136.16 358.50,135.44 358.00,138.38 357.50,136.23 357.00,139.20 356.50,138.21 356.00,139.00 355.50,137.95 355.00,138.93 354.50,139.27 354.00,139.37 353.50,140.03 353.00,139.12 352.50,139.32 352.00,141.34 351.50,139.92 351.00,140.04 350.50,141.71 350.00,143.20 349.50,142.26 349.00,142.61 348.50,142.35 348.00,142.62 347.50,143.22 347.00,142.42 346.50,142.88 346.00,144.02 345.50,143.31 345.00,143.87 344.50,143.62 344.00,145.17 343.50,143.53 343.00,143.36 342.50,143.64 342.00,144.14 341.50,144.22 341.00,145.19 340.50,144.55 340.00,144.84 339.50,144.55 339.00,144.33 338.50,144.92 338.00,143.97 337.50,144.38 337.00,143.92 336.50,144.21 336.00,144.12 335.50,145.67 335.00,144.95 334.50,144.50 334.00,144.36 333.50,144.70 333.00,144.66 332.50,145.98 332.00,145.44 331.50,144.93 331.00,145.78 330.50,146.52 330.00,146.90 329.50,145.81 329.00,147.51 328.50,145.71 328.00,146.64 327.50,149.36 327.00,146.49 326.50,147.34 326.00,145.84 325.50,147.43 325.00,146.98 324.50,146.37 324.00,146.30 323.50,146.49 323.00,146.85 322.50,147.05 322.00,146.89 321.50,147.63 321.00,147.88 320.50,147.81 320.00,147.85 319.50,147.40 319.00,147.04 318.50,148.09 318.00,148.79 317.50,148.34 317.00,149.65 316.50,148.71 316.00,149.21 315.50,148.12 315.00,147.43 314.50,147.75 314.00,148.50 313.50,148.10 313.00,149.40 312.50,147.41 312.00,147.36 311.50,147.11 311.00,148.14 310.50,148.31 310.00,146.73 309.50,147.20 309.00,146.71 308.50,146.87 308.00,146.28 307.50,146.12 307.00,145.93 306.50,145.52 306.00,146.21 305.50,145.39 305.00,144.36 304.50,143.89 304.00,143.56 303.50,144.42 303.00,141.80 302.50,140.88 302.00,141.19 301.50,141.04 301.00,138.45 300.50,136.98 300.00,136.67 299.50,133.54 299.00,132.87 298.50,131.43 298.00,128.88 297.50,126.78 297.00,122.44 296.50,119.73 296.00,118.30Z" fill="#f00000" stroke="#f00000" stroke-width="0.6"/>
<path d="M296.00,225.63 296.50,225.45 297.00,225.72 297.50,226.32 298.00,226.77 298.50,226.45 299.00,226.64 299.50,227.30 300.00,227.43 300.50,227.98 301.00,227.28 301.50,228.33 302.00,228.40 302.50,228.46 303.00,228.58 303.50,228.69 304.00,228.93 304.50,229.12 305.00,228.89 305.50,228.91 306.00,229.18 306.50,229.03 307.00,229.31 307.50,228.97 308.00,229.07 308.50,229.90 309.00,230.06 309.50,230.24 310.00,230.14 310.50,230.34 311.00,230.48 311.50,230.58 312.00,230.26 312.50,230.14 313.00,230.23 313.50,230.84 314.00,230.90 314.50,230.37 315.00,230.25 315.50,231.04 316.00,230.92 316.50,231.05 317.00,231.07 317.50,230.46 318.00,230.59 318.50,231.11 319.00,231.24 319.50,231.16 320.00,231.26 320.50,231.10 321.00,231.20 321.50,231.26 322.00,231.15 322.50,231.11 323.00,230.84 323.50,231.01 324.00,231.18 324.50,230.98 325.00,231.19 325.50,230.95 326.00,230.80 326.50,230.99 327.00,231.14 327.50,230.64 328.00,231.07 328.50,230.96 329.00,230.58 329.50,231.12 330.00,230.98 330.50,230.88 331.00,231.05 331.50,230.86 332.00,230.80 332.50,230.87 333.00,231.04 333.50,230.41 334.00,230.88 334.50,230.69 335.00,230.97 335.50,230.86 336.00,230.41 336.50,230.98 337.00,230.84 337.50,230.85 338.00,230.39 338.50,230.47 339.00,230.70 339.50,230.46 340.00,230.81 340.50,230.34 341.00,230.48 341.50,230.61 342.00,230.69 342.50,230.43 343.00,230.32 343.50,230.40 344.00,230.66 344.50,230.45 345.00,230.54 345.50,230.57 346.00,230.45 346.50,230.26 347.00,230.19 347.50,230.33 348.00,230.31 348.50,230.05 349.00,229.84 349.50,229.47 350.00,230.00 350.50,229.82 351.00,229.80 351.50,229.38 352.00,229.39 352.50,228.93 353.00,229.41 353.50,229.06 354.00,228.92 354.50,229.07 355.00,228.89 355.50,228.70 356.00,228.47 356.50,228.48 357.00,228.04 357.50,227.36 358.00,227.54 358.50,227.68 359.00,227.61 359.50,226.87 360.00,227.22 360.50,226.60 361.00,226.55 361.50,226.62 362.00,226.01 362.50,226.18 363.00,226.11 363.50,225.55 364.00,225.10 364.50,225.55 365.00,225.26 365.50,224.97 366.00,224.84 366.50,224.50 367.00,223.23 367.50,224.00 368.00,223.56 368.50,222.85 369.00,223.35 369.50,222.97 370.00,222.31 370.50,221.95 371.00,222.31 371.50,220.87 372.00,222.04 372.50,221.28 373.00,221.66 373.50,220.49 374.00,220.87 374.50,221.32 375.00,220.38 375.50,220.10 376.00,220.57 376.50,220.06 377.00,221.02 377.50,220.79 378.00,221.17 378.50,221.04 379.00,221.28 379.50,220.93 380.00,221.40 380.50,220.24 381.00,221.20 381.50,221.62 382.00,220.82 382.50,221.09 383.00,221.45 383.50,221.78 384.00,221.30 384.50,222.34 385.00,222.41 385.50,222.38 386.00,222.19 386.50,222.26 387.00,222.60 387.50,222.84 388.00,222.25 388.50,223.08 389.00,223.39 389.50,223.25 390.00,223.38 390.50,223.56 391.00,223.72 391.50,223.33 392.00,223.12 392.50,223.83 393.00,223.27 393.00,226.87 392.50,226.74 392.00,227.39 391.50,227.22 391.00,227.47 390.50,226.38 390.00,226.50 389.50,227.12 389.00,226.35 388.50,226.29 388.00,225.76 387.50,225.71 387.00,226.19 386.50,225.80 386.00,225.77 385.50,225.32 385.00,225.43 384.50,225.51 384.00,224.89 383.50,225.38 383.00,224.96 382.50,224.68 382.00,224.61 381.50,224.99 381.00,224.62 380.50,224.44 380.00,224.66 379.50,224.18 379.00,224.46 378.50,224.21 378.00,225.01 377.50,224.71 377.00,224.82 376.50,224.41 376.00,224.11 375.50,224.07 375.00,224.45 374.50,224.18 374.00,224.78 373.50,224.84 373.00,225.16 372.50,225.44 372.00,224.98 371.50,225.17 371.00,225.23 370.50,225.95 370.00,226.08 369.50,226.16 369.00,226.19 368.50,226.35 368.00,227.61 367.50,227.08 367.00,226.84 366.50,227.60 366.00,227.95 365.50,227.99 365.00,227.74 364.50,228.00 364.00,228.13 363.50,228.44 363.00,228.73 362.50,228.59 362.00,229.26 361.50,229.67 361.00,229.06 360.50,229.38 360.00,229.49 359.50,229.77 359.00,229.90 358.50,230.54 358.00,230.21 357.50,231.08 357.00,230.68 356.50,230.81 356.00,230.65 355.50,230.74 355.00,231.10 354.50,230.86 354.00,231.03 353.50,231.49 353.00,231.45 352.50,231.38 352.00,231.62 351.50,231.76 351.00,232.03 350.50,231.74 350.00,231.90 349.50,232.09 349.00,232.10 348.50,231.93 348.00,232.03 347.50,232.31 347.00,232.40 346.50,232.38 346.00,232.26 345.50,232.19 345.00,232.27 344.50,232.60 344.00,232.24 343.50,232.72 343.00,232.34 342.50,232.34 342.00,232.68 341.50,232.55 341.00,232.73 340.50,232.48 340.00,232.92 339.50,232.44 339.00,232.50 338.50,232.94 338.00,232.54 337.50,233.05 337.00,232.65 336.50,232.92 336.00,233.16 335.50,232.66 335.00,232.76 334.50,232.65 334.00,232.74 333.50,233.00 333.00,232.64 332.50,232.69 332.00,232.81 331.50,233.23 331.00,232.68 330.50,232.88 330.00,233.05 329.50,232.85 329.00,233.24 328.50,233.00 328.00,233.04 327.50,232.88 327.00,232.70 326.50,232.99 326.00,232.69 325.50,232.77 325.00,232.87 324.50,233.40 324.00,233.47 323.50,232.73 323.00,232.78 322.50,232.73 322.00,233.04 321.50,233.63 321.00,233.40 320.50,232.89 320.00,232.95 319.50,232.80 319.00,232.75 318.50,232.98 318.00,232.94 317.50,233.04 317.00,232.84 316.50,232.95 316.00,232.88 315.50,232.67 315.00,232.64 314.50,232.67 314.00,232.42 313.50,232.61 313.00,232.51 312.50,232.80 312.00,232.20 311.50,232.24 311.00,232.08 310.50,232.05 310.00,232.29 309.50,232.21 309.00,232.39 308.50,232.13 308.00,232.17 307.50,231.89 307.00,231.48 306.50,231.83 306.00,231.82 305.50,231.55 305.00,231.54 304.50,231.82 304.00,231.19 303.50,231.32 303.00,231.03 302.50,230.72 302.00,231.43 301.50,230.37 301.00,230.22 300.50,230.26 300.00,230.60 299.50,229.96 299.00,229.51 298.50,229.28 298.00,229.26 297.50,229.47 297.00,228.46 296.50,228.17 296.00,228.17Z" fill="#e80a10" stroke="#e80a10" stroke-width="0.6"/>
<path d="M18.50,78.73 18.80,79.71 19.10,78.68 19.40,80.44 19.70,79.55 20.00,79.29 20.30,79.47 20.60,79.76 20.90,80.66 21.20,80.25 21.50,79.43 21.80,79.38 22.10,79.29 22.40,80.70 22.70,80.49 23.00,79.30 23.30,78.92 23.60,80.11 23.90,79.72 24.20,80.54 24.50,80.03 24.80,80.37 25.10,80.66 25.40,80.79 25.70,79.78 26.00,80.41 26.30,79.36 26.60,78.79 26.90,79.75 27.20,80.35 27.50,80.33 27.80,78.98 28.10,77.44 28.40,78.58 28.70,77.59 29.00,77.23 29.30,75.60 29.60,70.28 29.90,61.85 30.20,48.46 30.50,30.44 30.80,14.57 31.00,11.50 31.10,11.93 31.40,24.79 31.70,42.83 32.00,57.98 32.30,68.84 32.60,73.35 32.90,76.16 33.20,78.04 33.50,78.01 33.80,77.47 34.10,78.53 34.40,78.77 34.70,79.78 35.00,80.70 35.30,79.72 35.60,79.57 35.90,80.84 36.20,79.29 36.50,80.09 36.80,80.27 37.10,79.91 37.40,79.83 37.70,80.13 38.00,81.15 38.30,80.46 38.60,79.60 38.90,80.26 39.20,80.77 39.50,81.38 39.80,80.64 40.10,80.17 40.40,81.00 40.70,80.51 41.00,79.80 41.30,78.98 41.60,79.27 41.90,79.58 42.20,77.62 42.50,76.61 42.80,77.33 43.10,74.66 43.40,73.41 43.70,72.62 44.00,71.05 44.30,70.18 44.50,69.90 44.60,70.30 44.90,70.53 45.20,71.27 45.50,71.22 45.80,75.55 46.10,76.22 46.40,76.80 46.70,76.75 47.00,76.35 47.30,77.49 47.60,77.12 47.90,76.16 48.20,77.90 48.50,76.02 48.80,76.68 49.10,78.21 49.40,76.12 49.70,76.58 50.00,76.87 50.30,75.63 50.60,74.03 50.90,74.09 51.20,73.69 51.50,71.78 51.80,73.02 52.10,71.13 52.40,70.27 52.70,68.73 53.00,67.61 53.30,65.92 53.60,64.12 53.90,65.06 54.00,64.50 54.20,65.48 54.50,63.58 54.80,64.93 55.10,66.86 55.40,64.55 55.70,64.78 56.00,65.75 56.30,66.64 56.60,64.40 56.80,65.50 56.90,65.44 57.20,65.89 57.50,67.10 57.80,69.17 58.10,69.16 58.40,68.63 58.70,69.41 59.00,69.82 59.30,68.08 59.60,67.34 59.90,65.60 60.20,61.93 60.50,62.73 60.80,60.70 60.80,60.65 61.10,61.84 61.40,64.29 61.70,68.67 62.00,70.35 62.30,71.52 62.60,74.22 62.90,74.50 63.20,73.78 63.50,73.73 63.80,75.75 64.10,75.14 64.40,74.26 64.70,75.86 65.00,74.45 65.30,75.08 65.60,75.03 65.90,74.18 66.20,76.18 66.50,78.26 66.80,76.06 67.10,75.77 67.40,75.08 67.70,74.88 68.00,74.45 68.30,73.37 68.60,70.09 68.90,66.78 69.20,62.03 69.50,58.78 69.70,57.50 69.80,58.47 70.10,60.25 70.40,64.68 70.70,69.56 71.00,71.62 71.30,73.24 71.60,74.55 71.90,74.87 72.20,75.77 72.50,73.95 72.80,75.75 73.10,74.57 73.40,75.40 73.70,73.85 74.00,74.60 74.30,74.00 74.60,75.36 74.90,72.48 75.20,72.52 75.50,68.51 75.80,64.61 76.10,61.27 76.40,57.82 76.70,55.30 76.70,55.73 77.00,57.09 77.30,60.77 77.60,66.15 77.90,68.66 78.20,71.74 78.50,71.65 78.80,73.11 79.10,74.30 79.40,73.37 79.70,72.13 80.00,74.27 80.30,74.04 80.60,73.25 80.90,73.35 81.20,72.75 81.50,72.94 81.80,73.05 82.10,71.91 82.40,70.94 82.70,69.86 83.00,69.22 83.30,67.99 83.60,68.08 83.90,65.56 84.20,65.00 84.50,64.94 84.80,64.43 85.00,64.00 85.10,63.66 85.40,64.25 85.70,63.42 86.00,63.95 86.30,64.85 86.60,66.87 86.90,68.38 87.20,67.76 87.50,68.32 87.80,69.11 88.10,71.19 88.40,70.43 88.70,70.73 89.00,70.56 89.30,71.64 89.60,72.50 89.90,71.91 90.20,71.38 90.50,73.17 90.80,72.37 91.10,73.91 91.40,71.96 91.70,72.81 92.00,73.27 92.30,71.90 92.60,73.40 92.90,73.89 93.20,73.41 93.50,73.88 93.80,73.70 94.10,72.91 94.40,73.97 94.70,72.68 95.00,72.78 95.30,72.15 95.60,72.84 95.90,71.61 96.20,71.13 96.50,69.30 96.80,69.98 97.10,70.06 97.40,66.69 97.70,67.31 98.00,65.80 98.30,63.56 98.60,64.40 98.60,65.12 98.90,64.62 99.20,65.63 99.50,67.19 99.80,67.11 100.10,68.85 100.40,67.93 100.70,68.66 101.00,70.68 101.30,70.77 101.60,70.55 101.90,68.77 102.20,69.75 102.50,69.28 102.80,71.40 103.10,68.98 103.40,69.05 103.70,69.58 104.00,70.28 104.30,69.62 104.60,69.84 104.90,70.29 105.20,70.10 105.50,68.68 105.80,69.14 106.10,71.27 106.40,70.06 106.70,71.34 107.00,71.01 107.30,70.66 107.60,69.77 107.90,70.71 108.20,69.03 108.50,70.75 108.80,69.14 109.10,68.51 109.40,66.63 109.70,64.16 110.00,59.78 110.30,51.50 110.60,39.77 110.90,27.57 111.20,22.10 111.20,23.06 111.50,27.59 111.80,35.72 112.10,42.03 112.40,44.19 112.70,41.53 113.00,34.50 113.30,31.08 113.40,30.00 113.60,31.75 113.90,37.46 114.20,46.25 114.50,51.93 114.80,56.53 115.10,60.14 115.40,61.61 115.70,61.65 116.00,61.31 116.30,60.27 116.50,60.50 116.60,61.57 116.90,62.99 117.20,60.53 117.50,64.63 117.80,65.06 118.10,65.87 118.40,66.19 118.70,66.88 119.00,66.88 119.30,68.21 119.60,67.35 119.90,67.84 120.20,66.61 120.50,68.23 120.80,67.36 121.10,65.46 121.40,66.15 121.70,65.13 122.00,64.62 122.10,65.20 122.30,66.04 122.60,66.98 122.90,66.71 123.20,68.12 123.50,68.49 123.80,69.18 124.10,69.99 124.40,68.74 124.70,69.85 125.00,71.56 125.30,69.69 125.60,70.25 125.90,72.44 126.20,70.41 126.50,71.39 126.80,71.62 127.10,71.32 127.40,72.36 127.70,72.43 128.00,71.41 128.30,73.39 128.60,71.66 128.90,72.12 129.20,72.55 129.50,73.02 129.80,72.26 130.10,73.49 130.40,71.91 130.70,73.41 131.00,73.34 131.30,73.72 131.60,74.41 131.90,74.88 132.20,74.36 132.50,75.15 132.80,74.21 133.10,75.24 133.40,76.38 133.70,75.34 134.00,75.75 134.30,76.08 134.60,76.80 134.90,76.54 135.20,76.19 135.50,75.58 135.80,76.50 136.10,74.19 136.40,76.62 136.70,75.75 137.00,76.77 137.30,76.23 137.60,77.26 137.90,75.78 138.20,74.77 138.50,76.23 138.80,75.83 139.10,76.09 139.40,77.01 139.70,75.44 140.00,76.58 140.30,76.70 140.60,76.80 140.90,74.50 141.20,76.05 141.50,75.38 141.80,75.67 142.10,75.20 142.40,75.50 142.70,76.37 143.00,76.88 143.30,76.06 143.60,74.54 143.90,76.24 144.20,74.23 144.50,74.64 144.80,75.44 145.10,73.74 145.40,74.06 145.70,72.43 146.00,70.50 146.30,69.84 146.60,67.25 146.90,66.71 147.20,64.66 147.50,63.00 147.70,61.50 147.80,62.89 148.10,62.58 148.40,64.40 148.70,66.15 149.00,67.48 149.30,69.55 149.60,71.31 149.90,72.65 150.20,72.50 150.50,72.45 150.80,72.31 151.10,72.57 151.40,74.09 151.70,73.47 152.00,73.18 152.30,71.84 152.60,71.78 152.90,73.61 153.20,73.60 153.50,73.98 153.80,73.31 154.10,72.69 154.40,71.92 154.70,72.51 155.00,71.47 155.30,73.41 155.60,73.54 155.90,74.20 156.20,71.82 156.50,72.11 156.80,73.60 157.10,73.36 157.40,71.60 157.70,72.51 158.00,73.05 158.30,72.61 158.60,73.08 158.90,72.72 159.20,72.15 159.50,72.70 159.80,72.19 160.10,72.94 160.40,70.81 160.70,71.53 161.00,71.02 161.30,71.19 161.60,71.55 161.90,71.65 162.20,69.56 162.30,71.20 162.50,71.60 162.80,71.70 163.10,71.52 163.40,72.39 163.70,72.22 164.00,70.83 164.30,71.93 164.60,72.49 164.90,72.65 165.20,72.81 165.50,73.81 165.80,72.72 166.10,73.16 166.40,73.13 166.70,73.98 167.00,74.45 167.30,73.55 167.60,74.60 167.90,73.99 168.20,75.52 168.50,72.86 168.80,74.58 169.10,75.51 169.40,74.43 169.70,73.93 170.00,74.16 170.30,75.27 170.60,74.50 170.90,75.76 171.20,75.06 171.50,74.67 171.80,74.83 172.10,75.58 172.40,76.05 172.70,74.76 173.00,74.55 173.30,74.63 173.60,75.94 173.90,77.03 174.20,75.35 174.50,76.32 174.80,75.59 175.10,76.66 175.40,74.93 175.70,76.56 176.00,75.21 176.30,75.62 176.60,76.57 176.90,76.21 177.20,76.40 177.50,76.91 177.80,76.72 178.10,77.74 178.40,77.24 178.70,76.08 179.00,76.70 179.30,76.38 179.60,76.52 179.90,78.18 180.20,76.28 180.50,77.83 180.80,78.01 181.10,78.93 181.40,76.88 181.70,77.05 182.00,77.05 182.30,76.52 182.60,78.08 182.90,78.17 183.20,74.92 183.50,76.33 183.80,77.40 184.10,75.65 184.40,75.82 184.70,76.27 185.00,76.14 185.30,75.91 185.60,75.84 185.90,77.19 186.20,73.96 186.50,75.19 186.80,74.57 187.10,75.45 187.40,74.72 187.70,75.11 188.00,74.27 188.30,75.21 188.60,71.29 188.90,70.32 189.20,69.58 189.50,67.25 189.70,67.20 189.80,66.07 190.10,68.70 190.40,69.62 190.70,71.67 191.00,71.73 191.30,72.77 191.60,72.96 191.90,75.07 192.20,72.58 192.50,74.28 192.80,74.16 193.10,74.94 193.40,74.18 193.70,73.16 194.00,74.29 194.30,72.52 194.60,74.53 194.90,73.51 195.20,72.84 195.50,72.78 195.80,73.30 196.10,71.22 196.40,73.36 196.70,71.03 197.00,72.19 197.30,70.60 197.60,71.38 197.90,68.50 198.20,69.70 198.50,68.76 198.70,68.80 198.80,69.41 199.10,68.77 199.40,68.73 199.70,69.59 200.00,69.71 200.30,70.70 200.60,71.39 200.90,72.76 201.20,72.32 201.50,72.20 201.80,73.69 202.10,73.10 202.40,72.86 202.70,72.84 203.00,75.22 203.30,73.89 203.60,75.28 203.90,73.35 204.20,73.33 204.50,75.48 204.80,74.00 205.10,74.07 205.40,74.06 205.70,73.46 206.00,75.04 206.30,73.35 206.60,74.87 206.90,73.48 207.20,76.30 207.50,74.86 207.80,75.16 208.10,73.03 208.40,74.60 208.70,73.85 209.00,73.68 209.30,73.71 209.60,74.99 209.90,74.40 210.20,73.99 210.50,73.92 210.80,73.90 211.10,73.99 211.40,74.20 211.70,73.54 212.00,73.74 212.30,72.75 212.60,74.43 212.90,74.90 213.20,74.10 213.50,75.54 213.80,73.92 214.10,74.54 214.40,75.41 214.70,74.73 215.00,73.95 215.30,74.85 215.60,74.28 215.90,75.45 216.20,75.20 216.50,74.47 216.80,75.05 217.10,75.99 217.40,75.54 217.70,75.36 218.00,74.58 218.30,74.29 218.60,74.18 218.90,75.55 219.20,73.96 219.50,75.11 219.80,76.03 220.10,73.62 220.40,75.11 220.70,74.10 221.00,74.77 221.30,75.28 221.60,74.15 221.90,73.90 222.20,74.61 222.50,75.08 222.80,74.62 223.10,74.18 223.40,75.41 223.70,74.01 224.00,73.73 224.30,74.83 224.60,76.30 224.90,74.16 225.20,74.32 225.50,73.43 225.80,73.52 226.10,72.87 226.40,73.67 226.70,72.67 227.00,72.32 227.30,73.40 227.60,71.42 227.90,73.16 228.00,72.50 228.20,71.80 228.50,72.62 228.80,72.66 229.10,73.39 229.40,73.30 229.70,75.21 230.00,74.89 230.30,75.23 230.60,73.72 230.90,74.59 231.20,75.94 231.50,75.65 231.80,75.34 232.10,75.37 232.40,76.31 232.70,74.14 233.00,74.99 233.30,74.65 233.60,76.62 233.90,74.74 234.20,75.62 234.50,76.89 234.80,75.67 235.10,76.16 235.40,76.00 235.70,76.53 236.00,77.71 236.30,75.19 236.60,76.07 236.90,77.40 237.20,77.98 237.50,76.04 237.80,77.29 238.10,76.78 238.40,76.78 238.70,75.25 239.00,75.12 239.30,76.50 239.60,76.33 239.90,76.37 240.20,75.58 240.50,77.61 240.80,76.40 241.10,78.63 241.40,76.42 241.70,76.91 242.00,77.23 242.30,76.42 242.60,75.94 242.90,76.31 243.20,76.77 243.50,76.41 243.80,78.33 244.10,76.45 244.40,77.46 244.70,77.51 245.00,77.06 245.30,76.13 245.60,77.36 245.90,77.71 246.20,77.15 246.50,77.06 246.80,75.42 247.10,76.25 247.40,76.97 247.70,77.27 248.00,77.72 248.30,76.94 248.60,77.33 248.90,76.44 249.20,77.72 249.50,77.81 249.80,77.20 250.10,78.04 250.40,77.10 250.70,76.98 251.00,77.15 251.30,78.91 251.60,76.19 251.90,77.59 252.20,77.20 252.50,77.57 252.80,76.39 253.10,78.08 253.40,78.05 253.70,77.37 254.00,77.27 254.30,77.66 254.60,78.36 254.90,76.50 255.20,78.74 255.50,77.47 255.80,78.36 256.10,77.12 256.40,79.25 256.70,77.99 257.00,79.16 257.30,77.37 257.60,77.37 257.90,78.74 258.20,78.44 258.50,78.19 258.80,78.89 259.10,78.29 259.40,77.73 259.70,76.58 260.00,76.30 260.30,78.54 260.60,78.50 260.90,77.41 261.20,78.52 261.50,77.97 261.80,78.18 262.10,78.90 262.40,77.00 262.70,78.48 263.00,78.63 263.30,78.10 263.60,78.39 263.90,77.42 264.20,78.42 264.50,78.80 264.80,78.93 265.10,77.83 265.40,78.99 265.70,78.63 266.00,78.92 266.30,78.40 266.60,78.93 266.90,78.62 267.20,80.32 267.50,78.27" fill="none" stroke="#e8000a" stroke-width="1.8" stroke-linejoin="round"/>
<path d="M18.50,227.38 18.80,226.89 19.10,226.20 19.40,227.84 19.70,228.63 20.00,228.61 20.30,228.90 20.60,228.16 20.90,229.12 21.20,228.36 21.50,230.52 21.80,230.64 22.10,229.42 22.40,230.06 22.70,229.86 23.00,230.38 23.30,230.76 23.60,230.58 23.90,231.11 24.20,231.78 24.50,231.39 24.80,231.96 25.10,231.58 25.40,231.77 25.70,231.17 26.00,232.29 26.30,231.35 26.60,231.78 26.90,231.40 27.20,232.30 27.50,231.62 27.80,232.43 28.10,233.10 28.40,232.41 28.70,231.27 29.00,232.80 29.30,232.47 29.60,232.71 29.90,232.65 30.20,233.03 30.50,233.00 30.80,232.55 31.10,232.06 31.40,232.61 31.70,233.02 32.00,231.89 32.30,232.80 32.60,231.98 32.90,233.27 33.20,233.61 33.50,233.21 33.80,232.68 34.10,233.22 34.40,233.47 34.70,233.63 35.00,233.54 35.30,233.41 35.60,232.54 35.90,232.93 36.20,233.18 36.50,233.01 36.80,232.18 37.10,232.93 37.40,232.71 37.70,233.10 38.00,233.16 38.30,232.41 38.60,232.70 38.90,233.08 39.20,232.57 39.50,232.99 39.80,232.64 40.10,232.69 40.40,233.34 40.70,232.90 41.00,232.71 41.30,233.58 41.60,232.77 41.90,232.87 42.20,232.87 42.50,234.14 42.80,233.09 43.10,233.17 43.40,232.61 43.70,233.11 44.00,233.21 44.30,232.17 44.60,232.84 44.90,233.35 45.20,233.40 45.50,232.67 45.80,233.56 46.10,232.18 46.40,232.93 46.70,232.67 47.00,231.91 47.30,232.81 47.60,231.73 47.90,231.98 48.20,232.20 48.50,231.65 48.80,232.72 49.10,231.92 49.40,231.51 49.70,232.18 50.00,232.02 50.30,231.46 50.60,231.69 50.90,232.34 51.20,232.27 51.50,231.06 51.80,232.26 52.10,232.22 52.40,232.27 52.70,231.42 53.00,231.23 53.30,231.52 53.60,231.19 53.90,231.34 54.20,231.11 54.50,231.21 54.80,231.05 55.10,231.26 55.40,231.27 55.70,230.99 56.00,230.78 56.30,231.84 56.60,231.43 56.90,231.13 57.20,230.32 57.50,231.06 57.80,230.56 58.10,230.90 58.40,230.62 58.70,231.81 59.00,230.34 59.30,229.67 59.60,230.76 59.90,230.72 60.20,230.73 60.50,228.34 60.80,229.18 61.10,229.10 61.40,228.46 61.70,229.35 62.00,229.50 62.30,229.59 62.60,229.30 62.90,228.55 63.20,229.32 63.50,228.28 63.80,226.04 64.10,227.46 64.40,226.93 64.70,227.44 65.00,226.68 65.30,226.50 65.60,227.47 65.90,225.71 66.20,225.02 66.50,225.96 66.80,226.02 67.10,225.23 67.40,225.08 67.70,224.41 68.00,223.62 68.30,223.83 68.60,223.38 68.90,225.00 69.20,223.62 69.50,224.76 69.80,223.31 70.10,222.45 70.40,223.13 70.70,222.92 71.00,223.63 71.30,220.56 71.60,221.68 71.90,222.15 72.20,220.90 72.50,221.42 72.80,220.82 73.10,222.11 73.40,221.74 73.70,218.52 74.00,218.75 74.30,219.20 74.60,219.65 74.90,219.36 75.20,218.83 75.50,219.69 75.80,219.77 76.10,218.88 76.40,218.35 76.70,218.52 77.00,217.56 77.30,219.04 77.60,218.95 77.90,217.18 78.20,219.42 78.50,217.92 78.80,218.74 79.10,217.93 79.40,217.77 79.70,218.67 80.00,217.08 80.30,217.85 80.60,217.02 80.90,218.74 81.20,218.15 81.50,218.18 81.80,218.11 82.10,219.36 82.40,219.14 82.70,218.84 83.00,218.77 83.30,221.03 83.60,220.93 83.90,218.68 84.20,221.00 84.50,220.55 84.80,220.53 85.10,220.81 85.40,219.38 85.70,222.97 86.00,222.77 86.30,221.15 86.60,221.29 86.90,221.56 87.20,220.99 87.50,222.17 87.80,221.80 88.10,221.03 88.40,221.64 88.70,221.62 89.00,221.76 89.30,222.09 89.60,223.00 89.90,222.21 90.20,221.29 90.50,223.92 90.80,222.30 91.10,224.04 91.40,223.07 91.70,223.33 92.00,222.14 92.30,222.82 92.60,222.23 92.90,222.08 93.20,221.48 93.50,217.76 93.80,211.96 94.10,195.55 94.40,177.44 94.70,166.32 94.80,164.50 95.00,170.98 95.30,188.87 95.60,204.62 95.90,216.54 96.20,221.84 96.50,224.26 96.80,225.23 97.10,226.05 97.40,226.04 97.70,226.67 98.00,227.58 98.30,227.55 98.60,228.12 98.90,227.14 99.20,227.31 99.50,227.92 99.80,227.13 100.10,227.17 100.40,228.22 100.70,227.66 101.00,228.46 101.30,227.99 101.60,227.68 101.90,227.32 102.20,228.80 102.50,227.99 102.80,227.49 103.10,227.11 103.40,227.29 103.70,227.84 104.00,228.91 104.30,227.52 104.60,228.30 104.90,228.25 105.20,225.96 105.50,227.27 105.80,228.60 106.10,226.72 106.40,228.75 106.70,228.00 107.00,226.85 107.30,229.10 107.60,227.73 107.90,228.76 108.20,227.74 108.50,226.93 108.80,227.98 109.10,228.15 109.40,227.33 109.70,224.63 110.00,223.60 110.30,215.07 110.60,200.35 110.90,181.86 111.20,167.50 111.20,171.95 111.50,176.94 111.80,199.35 112.10,216.93 112.40,222.80 112.70,225.25 113.00,225.57 113.30,227.19 113.60,227.09 113.90,227.04 114.20,226.65 114.50,226.23 114.80,227.24 115.10,225.72 115.40,226.67 115.70,227.39 116.00,227.19 116.30,225.98 116.60,223.46 116.90,223.65 117.20,218.69 117.50,206.92 117.80,192.06 118.10,175.62 118.30,169.80 118.40,170.31 118.70,183.41 119.00,204.09 119.30,216.36 119.60,222.44 119.90,225.85 120.20,227.33 120.50,226.87 120.80,227.64 121.10,228.00 121.40,228.02 121.70,228.26 122.00,228.76 122.30,227.93 122.60,228.13 122.90,229.41 123.20,229.94 123.50,230.22 123.80,228.06 124.10,229.41 124.40,228.72 124.70,228.95 125.00,229.18 125.30,229.59 125.60,229.72 125.90,227.96 126.20,229.08 126.50,230.11 126.80,229.56 127.10,228.53 127.40,228.92 127.70,229.03 128.00,230.10 128.30,230.52 128.60,228.79 128.90,229.67 129.20,229.02 129.50,229.17 129.80,227.85 130.10,225.68 130.40,223.62 130.70,220.70 131.00,220.29 131.20,218.50 131.30,219.06 131.60,219.67 131.90,222.78 132.20,226.13 132.50,227.44 132.80,230.10 133.10,230.23 133.40,229.06 133.70,230.17 134.00,230.85 134.30,229.38 134.60,229.91 134.90,231.03 135.20,229.79 135.50,230.66 135.80,230.31 136.10,230.50 136.40,229.87 136.70,230.45 137.00,230.29 137.30,231.53 137.60,230.96 137.90,230.72 138.20,230.69 138.50,231.11 138.80,229.92 139.10,230.28 139.40,230.36 139.70,230.47 140.00,230.06 140.30,231.24 140.60,230.75 140.90,231.69 141.20,231.00 141.50,230.90 141.80,231.36 142.10,231.38 142.40,231.04 142.70,231.51 143.00,231.88 143.30,231.03 143.60,231.94 143.90,231.20 144.20,231.76 144.50,231.31 144.80,231.15 145.10,231.51 145.40,230.80 145.70,230.56 146.00,231.36 146.30,231.27 146.60,230.83 146.90,232.47 147.20,231.62 147.50,231.05 147.80,231.68 148.10,231.70 148.40,231.24 148.70,231.32 149.00,230.51 149.30,231.56 149.60,232.39 149.90,232.02 150.20,231.96 150.50,231.14 150.80,230.89 151.10,231.87 151.40,231.56 151.70,231.29 152.00,231.21 152.30,231.81 152.60,231.61 152.90,230.99 153.20,231.09 153.50,230.16 153.80,230.23 154.10,230.86 154.40,229.65 154.70,227.36 155.00,222.33 155.30,212.03 155.60,198.18 155.70,198.50 155.90,201.84 156.20,217.49 156.50,225.46 156.80,229.05 157.10,229.44 157.40,231.13 157.70,231.27 158.00,231.04 158.30,230.87 158.60,231.10 158.90,230.56 159.20,231.25 159.50,231.25 159.80,231.06 160.10,231.37 160.40,230.77 160.70,232.13 161.00,231.50 161.30,231.01 161.60,231.98 161.90,231.89 162.20,231.37 162.50,230.98 162.80,231.60 163.10,231.86 163.40,231.95 163.70,232.10 164.00,232.07 164.30,230.93 164.60,231.71 164.90,230.74 165.20,232.13 165.50,231.86 165.80,232.12 166.10,231.68 166.40,231.66 166.70,231.39 167.00,230.30 167.30,231.56 167.60,232.91 167.90,232.27 168.20,231.54 168.50,231.80 168.80,231.85 169.10,231.34 169.40,231.62 169.70,231.78 170.00,231.36 170.30,231.81 170.60,232.18 170.90,231.96 171.20,231.67 171.50,231.42 171.80,231.84 172.10,231.17 172.40,231.07 172.70,231.97 173.00,231.06 173.30,230.46 173.60,231.46 173.90,231.22 174.20,231.18 174.50,230.05 174.80,229.78 175.10,226.64 175.40,220.95 175.70,213.34 176.00,203.57 176.30,194.37 176.40,195.50 176.60,197.93 176.90,206.17 177.20,216.73 177.50,223.79 177.80,227.22 178.10,229.73 178.40,230.62 178.70,229.61 179.00,230.56 179.30,231.49 179.60,231.42 179.90,230.32 180.20,231.47 180.50,232.10 180.80,231.88 181.10,231.85 181.40,231.44 181.70,231.55 182.00,230.96 182.30,231.53 182.60,232.65 182.90,231.49 183.20,231.02 183.50,231.70 183.80,230.34 184.10,232.36 184.40,231.22 184.70,230.17 185.00,229.13 185.30,227.36 185.60,226.36 185.90,224.81 186.20,224.20 186.20,224.93 186.50,224.51 186.80,225.50 187.10,228.55 187.40,229.77 187.70,229.98 188.00,230.52 188.30,231.72 188.60,231.09 188.90,231.44 189.20,232.03 189.50,230.69 189.80,230.43 190.10,230.47 190.40,229.86 190.70,228.56 191.00,226.47 191.30,222.15 191.60,220.90 191.60,221.06 191.90,220.87 192.20,225.74 192.50,228.99 192.80,230.79 193.10,230.53 193.40,231.12 193.70,232.39 194.00,231.32 194.30,230.64 194.60,230.00 194.90,229.95 195.20,229.42 195.50,227.11 195.80,227.27 196.10,224.59 196.30,224.90 196.40,225.45 196.70,225.91 197.00,227.22 197.30,229.64 197.60,229.68 197.90,231.16 198.20,230.96 198.50,232.28 198.80,231.59 199.10,231.67 199.40,231.99 199.70,231.70 200.00,231.98 200.30,231.67 200.60,232.10 200.90,231.84 201.20,231.57 201.50,232.11 201.80,232.06 202.10,231.34 202.40,231.70 202.70,231.05 203.00,231.90 203.30,232.25 203.60,233.00 203.90,231.97 204.20,232.33 204.50,232.53 204.80,232.16 205.10,230.89 205.40,231.54 205.70,231.90 206.00,231.83 206.30,231.68 206.60,231.05 206.90,230.34 207.20,231.13 207.50,231.00 207.80,229.26 208.10,228.79 208.40,226.82 208.70,225.85 209.00,224.66 209.20,224.90 209.30,224.27 209.60,225.71 209.90,227.37 210.20,228.02 210.50,228.47 210.80,230.33 211.10,230.67 211.40,230.53 211.70,231.34 212.00,231.43 212.30,231.95 212.60,231.47 212.90,231.77 213.20,232.04 213.50,230.84 213.80,232.23 214.10,231.76 214.40,231.26 214.70,231.79 215.00,232.20 215.30,231.33 215.60,231.34 215.90,232.20 216.20,232.17 216.50,232.16 216.80,230.68 217.10,229.22 217.40,227.66 217.70,225.86 218.00,222.73 218.30,221.58 218.60,220.20 218.60,219.27 218.90,222.43 219.20,222.71 219.50,225.46 219.80,227.18 220.10,229.89 220.40,230.14 220.70,230.35 221.00,228.32 221.30,228.63 221.60,227.59 221.90,223.27 222.20,224.76 222.50,222.17 222.60,221.80 222.80,221.97 223.10,224.67 223.40,227.12 223.70,229.88 224.00,229.17 224.30,231.82 224.60,230.70 224.90,231.60 225.20,231.49 225.50,231.69 225.80,230.91 226.10,231.75 226.40,231.36 226.70,231.86 227.00,232.11 227.30,232.04 227.60,231.98 227.90,232.69 228.20,232.21 228.50,232.35 228.80,232.71 229.10,232.07 229.40,232.15 229.70,232.42 230.00,232.00 230.30,232.71 230.60,231.84 230.90,232.04 231.20,232.08 231.50,232.00 231.80,232.14 232.10,231.93 232.40,231.05 232.70,232.68 233.00,231.95 233.30,232.49 233.60,231.65 233.90,232.42 234.20,231.55 234.50,232.81 234.80,232.08 235.10,231.92 235.40,230.80 235.70,231.06 236.00,231.86 236.30,231.77 236.60,231.74 236.90,231.74 237.20,232.35 237.50,231.55 237.80,231.29 238.10,230.70 238.40,229.95 238.70,230.02 239.00,228.77 239.30,228.09 239.60,228.12 239.70,227.90 239.90,228.52 240.20,229.01 240.50,228.54 240.80,229.64 241.10,231.26 241.40,231.07 241.70,231.92 242.00,231.42 242.30,230.83 242.60,231.02 242.90,231.77 243.20,231.93 243.50,233.23 243.80,232.51 244.10,232.51 244.40,232.62 244.70,231.48 245.00,232.25 245.30,232.18 245.60,233.13 245.90,231.92 246.20,231.58 246.50,232.29 246.80,232.17 247.10,232.30 247.40,232.37 247.70,232.33 248.00,231.97 248.30,232.06 248.60,233.31 248.90,231.97 249.20,232.48 249.50,231.77 249.80,231.43 250.10,232.61 250.40,232.25 250.70,232.71 251.00,232.46 251.30,231.75 251.60,230.44 251.90,230.50 252.20,227.39 252.50,227.39 252.60,225.60 252.80,226.86 253.10,228.47 253.40,230.24 253.70,231.13 254.00,232.97 254.30,231.69 254.60,231.51 254.90,232.41 255.20,232.01 255.50,232.78 255.80,232.28 256.10,232.91 256.40,232.43 256.70,232.04 257.00,232.25 257.30,232.72 257.60,232.13 257.90,232.03 258.20,232.33 258.50,232.55 258.80,232.96 259.10,232.60 259.40,232.79 259.70,232.31 260.00,233.22 260.30,233.36 260.60,232.06 260.90,232.45 261.20,232.25 261.50,232.40 261.80,232.02 262.10,231.69 262.40,231.13 262.70,231.08 263.00,230.74 263.30,230.51 263.60,229.34 263.90,227.82 264.20,227.03 264.40,227.20 264.50,227.82 264.80,227.90 265.10,229.06 265.40,230.08 265.70,230.80 266.00,231.13 266.30,231.52 266.60,231.51 266.90,231.87 267.20,232.47 267.50,233.36" fill="none" stroke="#e00a10" stroke-width="1.7" stroke-linejoin="round"/>
<path d="M18.50,307.43 18.80,307.96 19.10,310.10 19.40,308.04 19.70,307.82 20.00,308.14 20.30,308.04 20.60,306.95 20.90,308.95 21.20,307.20 21.50,308.12 21.80,308.28 22.10,308.95 22.40,308.55 22.70,308.43 23.00,308.22 23.30,309.04 23.60,308.69 23.90,308.48 24.20,308.10 24.50,308.47 24.80,309.22 25.10,308.07 25.40,309.29 25.70,309.29 26.00,310.05 26.30,308.80 26.60,308.62 26.90,309.25 27.20,309.06 27.50,307.53 27.80,310.17 28.10,309.51 28.40,309.44 28.70,308.77 29.00,309.57 29.30,309.09 29.60,310.36 29.90,309.69 30.20,310.14 30.50,308.22 30.80,308.36 31.10,308.54 31.40,308.22 31.70,309.53 32.00,308.37 32.30,307.02 32.60,307.16 32.90,308.14 33.20,306.13 33.50,306.21 33.80,304.04 34.10,304.33 34.40,304.18 34.70,303.81 35.00,303.90 35.00,304.12 35.30,304.74 35.60,302.98 35.90,304.62 36.20,305.54 36.50,305.72 36.80,306.86 37.10,306.46 37.40,306.68 37.70,306.78 38.00,308.29 38.30,307.01 38.60,307.78 38.90,308.18 39.20,308.72 39.50,308.14 39.80,307.71 40.10,308.77 40.40,307.54 40.70,307.78 41.00,306.83 41.30,308.26 41.60,308.13 41.90,306.70 42.20,307.59 42.50,307.93 42.80,306.76 43.10,305.55 43.40,305.74 43.70,304.66 44.00,300.37 44.30,298.43 44.60,292.81 44.90,288.01 45.20,282.03 45.50,280.90 45.50,281.06 45.80,283.17 46.10,287.19 46.40,293.19 46.70,297.25 47.00,300.77 47.30,302.81 47.60,303.90 47.90,305.81 48.20,305.93 48.50,306.29 48.80,306.27 49.10,306.75 49.40,306.56 49.70,306.11 50.00,307.02 50.30,307.93 50.60,305.80 50.90,306.04 51.20,306.64 51.50,305.66 51.80,306.77 52.10,305.47 52.40,304.99 52.70,305.03 53.00,306.27 53.30,303.98 53.60,305.30 53.90,303.54 54.20,305.31 54.50,304.80 54.80,304.63 55.10,305.14 55.40,302.70 55.70,301.81 56.00,298.22 56.30,293.37 56.60,285.34 56.90,280.04 57.20,276.20 57.20,277.27 57.50,279.61 57.80,285.28 58.10,292.11 58.40,296.89 58.70,299.51 59.00,302.50 59.30,300.27 59.60,299.14 59.90,297.11 60.20,294.05 60.50,288.61 60.80,282.95 61.10,279.17 61.20,278.10 61.40,279.64 61.70,284.25 62.00,292.07 62.30,297.66 62.60,300.11 62.90,302.62 63.20,302.65 63.50,303.55 63.80,303.90 64.10,304.59 64.40,303.06 64.70,304.17 65.00,304.77 65.30,304.39 65.60,304.58 65.90,302.32 66.20,303.35 66.50,303.50 66.80,302.98 67.10,301.30 67.40,302.46 67.70,299.45 68.00,293.66 68.30,288.57 68.60,282.23 68.90,278.48 69.00,277.40 69.20,278.07 69.50,283.89 69.80,291.26 70.10,297.33 70.40,299.94 70.70,301.76 71.00,303.55 71.30,303.69 71.60,304.78 71.90,304.30 72.20,304.74 72.50,302.72 72.80,303.16 73.10,303.03 73.40,303.57 73.70,304.21 74.00,303.62 74.30,303.90 74.60,302.51 74.90,302.79 75.20,301.10 75.50,296.87 75.80,294.26 76.10,291.48 76.40,290.56 76.50,289.80 76.70,291.55 77.00,291.51 77.30,295.72 77.60,298.25 77.90,299.99 78.20,301.21 78.50,300.33 78.80,302.01 79.10,301.12 79.40,299.72 79.70,300.25 80.00,296.78 80.30,294.82 80.60,291.14 80.90,287.59 81.20,286.27 81.40,286.10 81.50,285.43 81.80,287.83 82.10,291.16 82.40,293.60 82.70,295.08 83.00,296.71 83.30,299.27 83.60,298.46 83.90,299.15 84.20,301.31 84.50,300.41 84.80,300.44 85.10,299.74 85.40,301.70 85.70,301.47 86.00,298.45 86.30,298.13 86.60,295.96 86.90,294.75 87.20,293.39 87.50,291.38 87.80,288.69 88.10,288.37 88.20,288.00 88.40,289.11 88.70,290.85 89.00,292.31 89.30,294.12 89.60,295.60 89.90,297.56 90.20,298.56 90.50,300.08 90.80,301.00 91.10,302.68 91.40,301.32 91.70,303.02 92.00,301.45 92.30,304.76 92.60,302.48 92.90,302.90 93.20,303.80 93.50,301.94 93.80,301.39 94.10,300.28 94.40,299.00 94.70,296.26 95.00,295.60 95.30,292.88 95.60,290.29 95.90,290.10 96.00,289.10 96.20,289.13 96.50,290.90 96.80,293.52 97.10,294.54 97.40,297.76 97.70,300.31 98.00,300.77 98.30,302.95 98.60,302.71 98.90,304.16 99.20,304.31 99.50,304.82 99.80,304.20 100.10,303.40 100.40,303.03 100.70,307.61 101.00,303.85 101.30,304.17 101.60,303.44 101.90,305.40 102.20,304.64 102.50,304.42 102.80,302.64 103.10,303.82 103.40,302.15 103.70,303.19 104.00,301.85 104.30,299.87 104.60,301.08 104.90,300.17 105.20,302.20 105.50,299.15 105.80,299.46 106.10,298.90 106.40,297.75 106.70,296.88 107.00,296.30 107.30,295.57 107.60,294.33 107.70,294.50 107.90,294.51 108.20,294.20 108.50,295.31 108.80,296.06 109.10,297.15 109.40,297.03 109.70,296.82 110.00,296.85 110.30,295.17 110.60,295.84 110.90,293.62 111.20,291.79 111.50,288.07 111.80,282.90 112.10,273.10 112.40,262.76 112.70,250.81 113.00,243.65 113.10,243.40 113.30,244.54 113.60,254.40 113.90,264.07 114.20,274.24 114.50,282.77 114.80,285.39 115.10,289.58 115.40,290.23 115.70,290.91 116.00,291.39 116.30,290.93 116.60,293.06 116.90,292.57 117.20,292.96 117.50,293.39 117.80,293.83 118.10,293.69 118.40,293.12 118.70,293.20 119.00,293.47 119.30,294.42 119.60,295.74 119.90,294.36 120.20,295.26 120.50,296.15 120.80,295.66 121.10,295.81 121.40,295.19 121.70,295.83 122.00,294.79 122.30,293.95 122.60,293.23 122.90,292.88 123.20,292.80 123.40,292.20 123.50,292.66 123.80,292.52 124.10,293.47 124.40,295.95 124.70,297.96 125.00,299.12 125.30,300.38 125.60,299.39 125.90,302.34 126.20,302.34 126.50,302.55 126.80,301.21 127.10,302.89 127.40,302.40 127.70,302.58 128.00,303.09 128.30,302.09 128.60,304.14 128.90,304.23 129.20,304.21 129.50,304.78 129.80,302.71 130.10,303.83 130.40,303.92 130.70,303.40 131.00,304.98 131.30,306.33 131.60,303.89 131.90,305.16 132.20,304.91 132.50,305.07 132.80,305.14 133.10,305.65 133.40,304.82 133.70,305.07 134.00,306.62 134.30,305.54 134.60,305.61 134.90,304.45 135.20,306.10 135.50,306.27 135.80,306.09 136.10,307.07 136.40,304.62 136.70,306.70 137.00,304.97 137.30,305.42 137.60,304.79 137.90,306.81 138.20,306.17 138.50,305.97 138.80,306.32 139.10,304.83 139.40,305.88 139.70,306.46 140.00,305.90 140.30,306.27 140.60,305.19 140.90,306.41 141.20,306.07 141.50,306.43 141.80,307.36 142.10,306.30 142.40,305.80 142.70,306.48 143.00,305.40 143.30,307.32 143.60,306.14 143.90,306.12 144.20,306.43 144.50,305.16 144.80,305.99 145.10,305.81 145.40,307.44 145.70,306.89 146.00,307.11 146.30,305.78 146.60,305.78 146.90,306.30 147.20,304.90 147.50,304.45 147.80,305.74 148.10,304.23 148.40,303.12 148.70,300.06 149.00,299.14 149.30,297.21 149.60,295.51 149.90,295.50 149.90,294.75 150.20,295.14 150.50,298.84 150.80,299.66 151.10,300.39 151.40,304.09 151.70,304.07 152.00,304.63 152.30,302.91 152.60,306.11 152.90,305.32 153.20,306.15 153.50,306.53 153.80,304.44 154.10,306.68 154.40,305.95 154.70,305.41 155.00,303.67 155.30,306.58 155.60,305.29 155.90,305.27 156.20,303.67 156.50,304.46 156.80,303.78 157.10,303.59 157.40,300.84 157.70,298.75 158.00,298.54 158.30,296.97 158.60,296.72 158.90,295.63 159.20,295.50 159.20,296.37 159.50,296.99 159.80,296.69 160.10,296.73 160.40,299.20 160.70,300.43 161.00,301.79 161.30,302.84 161.60,303.82 161.90,303.00 162.20,305.47 162.50,305.82 162.80,305.99 163.10,305.86 163.40,306.72 163.70,305.02 164.00,306.21 164.30,306.76 164.60,306.10 164.90,306.42 165.20,307.22 165.50,306.44 165.80,305.98 166.10,306.29 166.40,306.92 166.70,305.96 167.00,306.72 167.30,306.46 167.60,306.80 167.90,307.31 168.20,307.32 168.50,306.88 168.80,307.01 169.10,307.42 169.40,306.35 169.70,307.02 170.00,306.13 170.30,307.81 170.60,307.04 170.90,306.09 171.20,306.67 171.50,307.54 171.80,307.23 172.10,305.91 172.40,308.29 172.70,307.25 173.00,307.37 173.30,306.91 173.60,306.57 173.90,306.11 174.20,307.27 174.50,307.17 174.80,307.01 175.10,307.73 175.40,307.44 175.70,306.52 176.00,306.96 176.30,308.03 176.60,306.31 176.90,308.75 177.20,306.90 177.50,309.08 177.80,307.61 178.10,306.20 178.40,307.63 178.70,307.39 179.00,307.04 179.30,307.38 179.60,307.38 179.90,305.09 180.20,307.86 180.50,307.15 180.80,307.37 181.10,307.85 181.40,307.35 181.70,306.50 182.00,307.92 182.30,307.12 182.60,307.49 182.90,306.80 183.20,307.15 183.50,306.51 183.80,308.22 184.10,306.31 184.40,307.63 184.70,305.56 185.00,306.92 185.30,306.43 185.60,307.19 185.90,306.53 186.20,307.81 186.50,308.11 186.80,305.53 187.10,306.20 187.40,304.81 187.70,304.41 188.00,304.34 188.30,303.80 188.60,301.85 188.90,299.22 189.20,298.70 189.30,297.80 189.50,297.49 189.80,299.62 190.10,300.23 190.40,303.83 190.70,303.61 191.00,303.83 191.30,304.49 191.60,303.26 191.90,304.06 192.20,302.85 192.50,303.75 192.80,303.73 193.10,304.45 193.40,302.96 193.70,303.43 194.00,301.91 194.30,300.15 194.60,301.11 194.90,299.91 195.20,298.75 195.50,299.18 195.80,297.33 196.10,297.55 196.30,297.80 196.40,298.43 196.70,297.67 197.00,298.87 197.30,299.42 197.60,300.61 197.90,300.86 198.20,300.37 198.50,302.37 198.80,304.38 199.10,303.35 199.40,304.31 199.70,305.45 200.00,305.06 200.30,304.73 200.60,305.67 200.90,305.71 201.20,305.36 201.50,305.95 201.80,305.15 202.10,305.08 202.40,305.41 202.70,306.07 203.00,306.18 203.30,305.71 203.60,306.83 203.90,306.41 204.20,305.94 204.50,306.60 204.80,306.74 205.10,306.10 205.40,305.10 205.70,305.98 206.00,306.12 206.30,305.49 206.60,305.04 206.90,305.23 207.20,305.22 207.50,303.67 207.80,306.03 208.10,304.96 208.40,306.32 208.70,305.00 209.00,304.42 209.30,305.59 209.60,305.11 209.90,305.71 210.20,304.84 210.50,304.88 210.80,304.78 211.10,304.85 211.40,305.69 211.70,304.58 212.00,305.67 212.30,306.38 212.60,305.04 212.90,305.63 213.20,305.34 213.50,305.70 213.80,306.16 214.10,306.64 214.40,306.86 214.70,305.88 215.00,306.91 215.30,306.10 215.60,305.83 215.90,306.05 216.20,305.46 216.50,306.93 216.80,305.72 217.10,307.22 217.40,309.02 217.70,306.61 218.00,305.88 218.30,307.67 218.60,306.76 218.90,307.53 219.20,307.62 219.50,307.85 219.80,309.34 220.10,308.02 220.40,308.03 220.70,307.82 221.00,307.41 221.30,307.51 221.60,307.23 221.90,308.58 222.20,307.87 222.50,308.45 222.80,308.21 223.10,309.53 223.40,307.90 223.70,308.39 224.00,307.52 224.30,308.73 224.60,307.77 224.90,307.92 225.20,306.91 225.50,308.24 225.80,308.99 226.10,308.74 226.40,307.01 226.70,308.36 227.00,307.21 227.30,306.52 227.60,306.76 227.90,308.48 228.20,307.34 228.50,306.67 228.80,307.73 229.10,307.68 229.40,307.19 229.70,307.71 230.00,307.06 230.30,308.15 230.60,307.78 230.90,307.16 231.20,307.41 231.50,307.75 231.80,307.00 232.10,307.40 232.40,306.91 232.70,306.73 233.00,305.58 233.30,306.00 233.60,306.12 233.90,306.83 234.20,308.60 234.50,306.06 234.80,306.38 235.10,305.76 235.40,306.36 235.70,306.44 236.00,307.06 236.30,305.59 236.60,306.89 236.90,306.70 237.20,306.30 237.50,305.63 237.80,305.75 238.10,306.34 238.40,306.88 238.70,306.41 239.00,305.96 239.30,306.71 239.60,305.81 239.90,307.14 240.20,308.69 240.50,306.28 240.80,307.47 241.10,306.13 241.40,306.94 241.70,307.33 242.00,307.89 242.30,307.15 242.60,308.17 242.90,306.42 243.20,307.26 243.50,307.50 243.80,307.66 244.10,307.61 244.40,309.10 244.70,307.63 245.00,308.71 245.30,308.40 245.60,309.64 245.90,308.14 246.20,308.89 246.50,308.88 246.80,306.30 247.10,308.93 247.40,309.46 247.70,309.88 248.00,308.12 248.30,308.79 248.60,309.85 248.90,308.24 249.20,308.50 249.50,309.52 249.80,309.61 250.10,310.08 250.40,309.93 250.70,309.29 251.00,308.40 251.30,308.69 251.60,309.14 251.90,309.41 252.20,309.18 252.50,309.71 252.80,308.62 253.10,308.85 253.40,308.24 253.70,310.57 254.00,309.04 254.30,309.84 254.60,310.05 254.90,309.41 255.20,309.02 255.50,308.80 255.80,308.97 256.10,307.93 256.40,308.77 256.70,309.68 257.00,309.34 257.30,309.72 257.60,309.70 257.90,309.63 258.20,309.20 258.50,309.25 258.80,309.76 259.10,308.85 259.40,308.14 259.70,309.68 260.00,309.11 260.30,309.84 260.60,308.60 260.90,307.89 261.20,308.92 261.50,308.58 261.80,308.34 262.10,310.10 262.40,309.20 262.70,308.15 263.00,307.84 263.30,308.88 263.60,309.36 263.90,309.13 264.20,309.74 264.50,309.13 264.80,309.22 265.10,307.52 265.40,309.75 265.70,308.44 266.00,309.47 266.30,307.70 266.60,308.13 266.90,309.58 267.20,307.85 267.50,308.82" fill="none" stroke="#e00a10" stroke-width="1.7" stroke-linejoin="round"/>
<path d="M18.50,386.25 19.00,386.57 19.50,386.37 20.00,386.50 20.50,386.30 21.00,386.05 21.50,386.62 22.00,386.22 22.50,386.32 23.00,386.30 23.50,386.07 24.00,386.42 24.50,386.25 25.00,386.04 25.50,386.08 26.00,385.96 26.50,386.19 27.00,386.27 27.50,386.16 28.00,386.30 28.50,386.25 29.00,386.38 29.50,386.30 30.00,386.27 30.50,386.17 31.00,386.12 31.50,386.16 32.00,386.35 32.50,386.22 33.00,386.52 33.50,386.42 34.00,386.09 34.50,386.36 35.00,386.48 35.50,386.19 36.00,386.48 36.50,386.18 37.00,386.53 37.50,386.37 38.00,386.25 38.50,386.03 39.00,386.27 39.50,386.17 40.00,386.34 40.50,386.15 41.00,386.35 41.50,386.21 42.00,386.37 42.50,386.40 43.00,386.30 43.50,386.35 44.00,386.44 44.50,386.12 45.00,386.36 45.50,386.30 46.00,386.50 46.50,386.23 47.00,386.40 47.50,385.98 48.00,386.42 48.50,386.28 49.00,386.26 49.50,386.32 50.00,385.97 50.50,386.09 51.00,386.09 51.50,385.94 52.00,385.74 52.50,385.46 53.00,380.96 53.50,364.95 53.70,361.60 54.00,368.55 54.50,382.83 55.00,385.45 55.50,385.59 56.00,385.21 56.50,384.71 57.00,378.77 57.50,357.15 57.70,352.70 58.00,361.69 58.50,380.98 59.00,383.16 59.50,372.02 60.00,354.10 60.50,372.09 61.00,383.86 61.50,385.50 62.00,385.71 62.50,385.57 63.00,384.08 63.50,378.12 63.80,375.70 64.00,377.26 64.50,383.29 65.00,385.38 65.50,385.65 66.00,385.94 66.50,386.12 67.00,386.24 67.50,386.04 68.00,385.71 68.50,383.65 69.00,380.90 69.50,383.56 70.00,385.76 70.50,386.02 71.00,386.02 71.50,386.24 72.00,386.33 72.50,386.17 73.00,385.78 73.50,385.96 74.00,385.88 74.50,385.18 75.00,380.31 75.50,374.50 76.00,380.53 76.50,385.31 77.00,385.96 77.50,385.91 78.00,385.95 78.50,386.26 79.00,386.06 79.50,386.17 80.00,386.11 80.50,385.97 81.00,385.41 81.50,384.19 81.90,383.90 82.00,383.96 82.50,384.77 83.00,385.47 83.50,386.36 84.00,385.97 84.50,386.37 85.00,385.98 85.50,386.38 86.00,385.97 86.50,386.37 87.00,386.26 87.50,386.36 88.00,386.12 88.50,386.27 89.00,386.27 89.50,386.25 90.00,386.14 90.50,386.42 91.00,385.94 91.50,385.97 92.00,385.96 92.50,386.38 93.00,386.00 93.50,385.97 94.00,385.87 94.50,385.60 95.00,383.99 95.50,379.59 96.00,376.20 96.50,379.71 97.00,383.99 97.50,385.82 98.00,385.96 98.50,385.96 99.00,385.76 99.50,385.97 100.00,386.00 100.50,386.07 101.00,385.73 101.50,385.50 102.00,384.84 102.50,381.82 103.00,356.41 103.50,316.60 104.00,355.99 104.50,381.77 105.00,384.68 105.50,385.12 106.00,385.22 106.50,385.16 107.00,385.03 107.50,380.29 108.00,363.01 108.20,359.30 108.50,366.60 109.00,382.29 109.50,385.24 110.00,385.56 110.50,385.47 111.00,385.71 111.50,385.89 112.00,384.92 112.50,380.00 113.00,370.31 113.10,369.80 113.50,376.03 114.00,383.83 114.50,385.61 115.00,386.10 115.50,386.06 116.00,386.07 116.50,386.23 117.00,386.02 117.50,384.94 118.00,382.58 118.20,381.60 118.50,382.47 119.00,385.35 119.50,386.06 120.00,386.36 120.50,386.14 121.00,385.65 121.50,384.49 121.80,383.90 122.00,384.11 122.50,385.62 123.00,385.96 123.50,385.84 124.00,386.00 124.50,386.02 125.00,386.20 125.50,385.98 126.00,385.87 126.50,384.79 127.00,381.23 127.50,376.31 127.60,376.20 128.00,379.00 128.50,384.09 129.00,385.74 129.50,385.91 130.00,385.89 130.50,386.06 131.00,386.08 131.50,385.84 132.00,383.59 132.50,379.18 132.80,378.00 133.00,378.51 133.50,382.92 134.00,385.39 134.50,385.93 135.00,386.08 135.50,386.18 136.00,385.89 136.50,386.16 137.00,386.12 137.50,386.08 138.00,385.86 138.50,385.05 139.00,384.40 139.40,383.90 139.50,383.90 140.00,384.77 140.50,385.62 141.00,386.05 141.50,386.11 142.00,385.71 142.50,384.94 143.00,383.78 143.50,382.70 144.00,383.99 144.50,384.96 145.00,385.90 145.50,386.07 146.00,386.17 146.50,386.00 147.00,386.19 147.50,386.42 148.00,386.01 148.50,385.69 149.00,385.90 149.50,384.73 150.00,381.19 150.50,376.93 150.60,376.90 151.00,379.28 151.50,383.50 152.00,385.55 152.50,386.05 153.00,386.18 153.50,386.08 154.00,386.17 154.50,386.44 155.00,386.44 155.50,385.95 156.00,386.32 156.50,385.61 157.00,385.21 157.50,384.09 158.00,383.90 158.50,384.18 159.00,385.18 159.50,385.70 160.00,386.06 160.50,386.17 161.00,386.18 161.50,386.29 162.00,386.17 162.50,386.13 163.00,386.03 163.50,385.96 164.00,385.96 164.50,385.99 165.00,385.77 165.50,383.26 166.00,375.20 166.30,371.50 166.50,373.11 167.00,381.86 167.50,384.05 168.00,381.36 168.50,379.50 169.00,381.84 169.50,384.46 170.00,385.92 170.50,385.94 171.00,386.06 171.50,385.87 172.00,386.14 172.50,386.23 173.00,386.11 173.50,386.17 174.00,385.89 174.50,386.24 175.00,386.15 175.50,386.13 176.00,386.20 176.50,386.13 177.00,385.62 177.50,385.01 178.00,384.01 178.50,382.62 178.70,382.70 179.00,382.66 179.50,384.02 180.00,385.25 180.50,385.68 181.00,385.80 181.50,385.98 182.00,386.14 182.50,385.85 183.00,385.84 183.50,386.05 184.00,385.55 184.50,385.20 185.00,383.92 185.50,382.46 186.00,382.00 186.50,382.78 187.00,383.69 187.50,384.79 188.00,383.97 188.50,382.47 189.00,380.77 189.30,380.40 189.50,380.71 190.00,382.09 190.50,383.92 191.00,384.87 191.50,384.78 192.00,384.29 192.50,382.71 193.00,382.00 193.50,382.79 194.00,383.88 194.50,385.21 195.00,386.12 195.50,385.80 196.00,385.99 196.50,385.65 197.00,385.61 197.50,385.33 198.00,384.29 198.50,383.34 199.00,382.63 199.50,381.76 199.80,381.60 200.00,381.73 200.50,382.09 201.00,383.03 201.50,384.01 202.00,385.15 202.50,385.37 203.00,385.60 203.50,385.93 204.00,386.05 204.50,386.15 205.00,385.85 205.50,386.32 206.00,385.97 206.50,386.10 207.00,385.93 207.50,385.41 208.00,384.90 208.50,383.99 209.00,383.50 209.50,384.24 210.00,385.17 210.50,385.72 211.00,386.05 211.50,386.02 212.00,385.89 212.50,386.16 213.00,385.93 213.50,385.71 214.00,385.12 214.50,384.49 215.00,383.84 215.10,383.90 215.50,384.28 216.00,384.82 216.50,385.62 217.00,386.15 217.50,385.90 218.00,386.14 218.50,386.00 219.00,385.96 219.50,385.50 220.00,384.88 220.50,384.02 221.00,383.50 221.50,383.73 222.00,384.96 222.50,385.58 223.00,385.85 223.50,386.07 224.00,386.34 224.50,386.01 225.00,385.67 225.50,385.35 226.00,384.27 226.50,383.50 226.80,383.20 227.00,383.49 227.50,384.02 228.00,385.04 228.50,385.92 229.00,386.31 229.50,386.19 230.00,386.38 230.50,386.29 231.00,386.23 231.50,385.98 232.00,386.56 232.50,386.42 233.00,385.90 233.50,386.37 234.00,386.16 234.50,386.09 235.00,386.16 235.50,386.36 236.00,386.23 236.50,386.20 237.00,386.19 237.50,386.11 238.00,386.13 238.50,385.43 239.00,384.93 239.50,384.35 240.00,384.00 240.50,384.40 241.00,385.08 241.50,385.80 242.00,386.03 242.50,386.27 243.00,386.22 243.50,386.35 244.00,386.19 244.50,385.99 245.00,386.26 245.50,386.27 246.00,386.19 246.50,386.42 247.00,386.35 247.50,386.51 248.00,386.22 248.50,386.21 249.00,386.35 249.50,386.50 250.00,386.16 250.50,386.34 251.00,386.25 251.50,386.20 252.00,386.37 252.50,386.33 253.00,386.18 253.50,385.66 254.00,385.15 254.50,384.14 255.00,384.00 255.50,384.20 256.00,385.11 256.50,385.89 257.00,386.04 257.50,386.22 258.00,386.14 258.50,386.65 259.00,386.08 259.50,386.19 260.00,386.26 260.50,386.69 261.00,386.20 261.50,386.30 262.00,386.42 262.50,385.98 263.00,386.44 263.50,386.36 264.00,386.54 264.50,386.54 265.00,386.39 265.50,386.48 266.00,386.21 266.50,386.14 267.00,386.28 267.50,386.35" fill="none" stroke="#c81418" stroke-width="1.3" stroke-linejoin="round"/>
<path d="M296.00,69.58 296.30,70.50 296.60,71.00 296.90,72.17 297.20,71.05 297.50,71.12 297.80,72.13 298.10,72.20 298.40,72.72 298.70,73.78 299.00,72.04 299.30,73.37 299.60,73.94 299.90,73.95 300.20,71.86 300.50,72.74 300.80,73.94 301.10,72.95 301.40,73.27 301.70,72.84 302.00,73.89 302.30,73.07 302.60,72.64 302.90,72.92 303.20,73.87 303.50,73.08 303.80,71.51 304.10,71.12 304.40,73.16 304.70,71.31 305.00,72.61 305.30,71.88 305.60,72.49 305.90,71.66 306.20,70.28 306.50,72.98 306.80,71.72 307.10,71.41 307.40,72.44 307.70,71.35 308.00,70.88 308.30,68.30 308.60,65.21 308.90,59.02 309.20,47.61 309.50,34.48 309.80,20.19 310.10,13.60 310.10,13.32 310.40,20.82 310.70,34.34 311.00,49.27 311.30,60.07 311.60,66.40 311.90,67.71 312.20,72.20 312.50,73.51 312.80,73.00 313.10,73.38 313.40,74.83 313.70,73.50 314.00,75.52 314.30,75.16 314.60,75.91 314.90,74.95 315.20,75.16 315.50,75.37 315.80,74.07 316.10,74.63 316.40,76.18 316.70,74.89 317.00,74.73 317.30,75.73 317.60,76.56 317.90,75.52 318.20,75.39 318.50,75.60 318.80,75.97 319.10,74.49 319.40,75.97 319.70,76.02 320.00,76.52 320.30,76.57 320.60,76.26 320.90,77.30 321.20,75.81 321.50,75.73 321.80,77.05 322.10,75.93 322.40,75.41 322.70,75.44 323.00,75.84 323.30,74.84 323.60,76.59 323.90,76.08 324.20,76.80 324.50,75.07 324.80,75.56 325.10,75.32 325.40,76.18 325.70,76.03 326.00,76.26 326.30,76.16 326.60,74.75 326.90,75.66 327.20,75.37 327.50,75.09 327.80,75.18 328.10,72.95 328.40,73.24 328.70,72.75 329.00,71.34 329.30,70.00 329.60,70.47 329.90,69.57 330.20,68.50 330.20,67.84 330.50,67.01 330.80,69.90 331.10,70.06 331.40,70.44 331.70,72.44 332.00,72.62 332.30,71.84 332.60,73.46 332.90,72.31 333.20,73.99 333.50,72.65 333.80,72.41 334.10,74.02 334.40,74.12 334.70,73.15 335.00,72.41 335.30,73.63 335.60,73.19 335.90,73.17 336.20,72.59 336.50,71.64 336.80,72.26 337.10,73.53 337.40,71.82 337.70,72.06 338.00,71.92 338.30,72.46 338.60,71.74 338.90,70.96 339.20,72.37 339.50,70.73 339.80,70.36 340.10,69.06 340.40,67.71 340.70,68.33 341.00,66.77 341.30,66.23 341.60,63.31 341.90,65.32 342.20,63.48 342.40,63.30 342.50,62.44 342.80,63.52 343.10,64.10 343.40,65.53 343.70,66.05 344.00,64.68 344.30,66.98 344.60,67.42 344.90,67.46 345.20,68.13 345.50,68.57 345.80,68.97 346.10,67.48 346.40,67.75 346.70,68.46 347.00,68.96 347.30,67.81 347.60,68.59 347.90,67.71 348.20,68.73 348.50,68.60 348.80,69.08 349.10,69.55 349.40,67.48 349.70,67.39 350.00,64.24 350.30,63.29 350.60,61.73 350.90,57.29 351.10,58.10 351.20,55.93 351.50,60.57 351.80,64.90 352.10,65.56 352.40,68.87 352.70,71.29 353.00,70.74 353.30,72.14 353.60,71.88 353.90,72.45 354.20,73.13 354.50,74.03 354.80,73.79 355.10,73.80 355.40,73.90 355.70,75.00 356.00,74.73 356.30,74.79 356.60,73.21 356.90,74.52 357.20,73.94 357.50,76.07 357.80,75.28 358.10,75.85 358.40,74.13 358.70,73.56 359.00,74.05 359.30,75.05 359.60,73.98 359.90,74.93 360.20,75.30 360.50,73.92 360.80,74.77 361.10,72.24 361.40,72.79 361.70,73.08 362.00,73.09 362.30,72.04 362.60,72.53 362.90,73.18 363.20,72.47 363.50,71.35 363.80,69.24 364.10,69.57 364.40,67.38 364.70,64.54 365.00,64.87 365.20,63.80 365.30,64.24 365.60,64.74 365.90,66.12 366.20,68.17 366.50,70.16 366.80,69.53 367.10,69.97 367.40,70.25 367.70,70.83 368.00,71.04 368.30,69.66 368.60,70.73 368.90,72.38 369.20,71.25 369.50,71.49 369.80,70.65 370.10,72.31 370.40,71.12 370.70,70.42 371.00,70.05 371.30,70.84 371.60,71.57 371.90,69.27 372.20,68.23 372.50,66.06 372.80,66.91 373.10,64.29 373.40,64.50 373.40,63.76 373.70,64.48 374.00,67.07 374.30,67.37 374.60,69.30 374.90,69.49 375.20,70.28 375.50,71.35 375.80,71.51 376.10,70.25 376.40,71.21 376.70,70.53 377.00,71.80 377.30,70.83 377.60,70.61 377.90,71.93 378.20,70.87 378.50,71.34 378.80,71.72 379.10,70.70 379.40,70.77 379.70,71.34 380.00,72.47 380.30,71.08 380.60,71.04 380.90,70.35 381.20,70.12 381.50,71.09 381.80,69.23 382.10,69.06 382.40,70.48 382.70,68.57 383.00,67.99 383.30,69.04 383.60,69.19 383.90,69.50 384.20,69.58 384.50,65.96 384.80,67.24 385.10,66.89 385.40,67.16 385.70,66.01 386.00,66.48 386.30,66.50 386.60,66.33 386.90,65.49 387.00,66.10 387.20,65.48 387.50,65.56 387.80,66.12 388.10,67.07 388.40,65.14 388.70,66.82 389.00,68.13 389.30,67.43 389.60,67.14 389.90,67.96 390.20,69.18 390.50,68.07 390.80,67.88 391.10,69.18 391.40,68.60 391.70,68.45 392.00,69.78 392.30,68.69 392.60,69.27 392.90,70.67 393.20,69.94 393.50,70.95 393.80,68.79 394.10,69.15 394.40,69.85 394.70,70.49 395.00,69.28 395.30,71.04 395.60,70.59 395.90,70.74 396.20,71.28 396.50,71.18 396.80,70.58 397.10,71.41 397.40,70.78 397.70,72.77 398.00,71.50 398.30,71.72 398.60,71.48 398.90,72.04 399.20,72.23 399.50,71.98 399.80,71.29 400.10,72.92 400.40,72.02 400.70,70.55 401.00,70.18 401.30,70.92 401.60,70.75 401.90,70.22 402.20,70.57 402.50,71.36 402.80,71.86 403.10,70.87 403.40,70.73 403.70,71.10 404.00,71.65 404.30,70.62 404.60,69.96 404.90,69.15 405.20,68.24 405.50,69.08 405.80,69.44 406.10,68.55 406.40,67.70 406.70,68.37 407.00,67.70 407.30,67.19 407.60,66.05 407.90,67.91 408.10,67.50 408.20,68.36 408.50,67.02 408.80,67.61 409.10,67.17 409.40,69.01 409.70,68.79 410.00,67.85 410.30,69.05 410.60,67.13 410.90,68.67 411.20,67.87 411.50,68.30 411.80,68.16 412.10,69.06 412.40,67.35 412.70,68.45 413.00,69.93 413.30,67.25 413.60,68.89 413.90,68.11 414.20,67.16 414.50,69.54 414.80,68.92 415.10,70.29 415.40,67.94 415.70,69.66 416.00,70.58 416.30,67.97 416.60,69.84 416.90,69.83 417.20,69.39 417.50,70.19 417.80,69.47 418.10,68.11 418.40,67.57 418.70,67.25 419.00,67.34 419.30,64.11 419.60,62.29 419.90,58.23 420.20,55.19 420.50,51.83 420.80,50.37 420.90,49.20 421.10,49.17 421.40,50.72 421.70,54.55 422.00,57.68 422.30,60.54 422.60,63.06 422.90,63.28 423.20,64.39 423.50,64.83 423.80,65.91 424.10,64.89 424.40,66.25 424.70,66.92 425.00,65.38 425.30,66.73 425.60,66.16 425.90,65.79 426.20,67.48 426.50,67.00 426.80,65.93 427.10,66.72 427.40,65.90 427.70,65.48 428.00,67.47 428.30,66.80 428.60,68.19 428.90,67.20 429.20,67.42 429.50,67.27 429.80,67.63 430.10,67.04 430.40,67.61 430.70,66.60 431.00,66.68 431.30,67.16 431.60,67.86 431.90,68.40 432.20,68.46 432.50,69.62 432.80,70.72 433.10,67.11 433.40,70.17 433.70,69.87 434.00,68.82 434.30,69.47 434.60,67.96 434.90,69.37 435.20,70.85 435.50,68.84 435.80,69.39 436.10,70.03 436.40,70.57 436.70,70.19 437.00,69.87 437.30,70.87 437.60,70.04 437.90,72.42 438.20,71.65 438.50,70.89 438.80,70.31 439.10,70.60 439.40,70.58 439.70,71.00 440.00,71.69 440.30,70.49 440.60,71.71 440.90,71.70 441.20,71.07 441.50,72.89 441.80,72.38 442.10,72.37 442.40,71.80 442.70,71.78 443.00,72.47 443.30,71.44 443.60,72.93 443.90,71.89 444.20,72.84 444.50,73.46 444.80,72.85 445.10,72.66 445.40,72.67 445.70,73.44 446.00,72.58 446.30,73.48 446.60,74.34 446.90,72.26 447.20,73.17 447.50,74.06 447.80,73.09 448.10,73.22 448.40,73.15 448.70,74.80 449.00,72.60 449.30,74.19 449.60,74.19 449.90,74.41 450.20,73.87 450.50,74.57 450.80,74.17 451.10,73.96 451.40,76.61 451.70,75.46 452.00,73.92 452.30,74.24 452.60,75.13 452.90,75.92 453.20,74.71 453.50,75.42 453.80,75.05 454.10,75.80 454.40,74.51 454.70,74.34 455.00,75.13 455.30,75.13 455.60,74.95 455.90,75.84 456.20,75.43 456.50,74.99 456.80,74.01 457.10,75.40 457.40,75.52 457.70,74.37 458.00,74.78 458.30,74.00 458.60,74.90 458.90,74.63 459.20,73.43 459.50,74.76 459.80,74.48 460.10,74.45 460.40,75.47 460.70,75.02 461.00,75.29 461.30,74.36 461.60,75.59 461.90,73.97 462.20,75.07 462.50,73.35 462.80,74.60 463.10,73.63 463.40,73.26 463.70,74.81 464.00,74.39 464.30,74.56 464.60,74.14 464.90,74.20 465.20,73.83 465.50,73.54 465.80,73.48 466.10,74.75 466.40,71.78 466.70,70.79 467.00,70.50 467.30,69.87 467.60,69.94 467.90,69.61 468.20,69.09 468.50,68.00 468.50,68.56 468.80,69.60 469.10,69.20 469.40,70.43 469.70,69.53 470.00,71.71 470.30,72.34 470.60,71.39 470.90,72.80 471.20,73.57 471.50,72.67 471.80,74.19 472.10,74.35 472.40,73.92 472.70,73.66 473.00,73.63 473.30,74.09 473.60,74.68 473.90,72.83 474.20,74.01 474.50,74.07 474.80,73.24 475.10,72.94 475.40,73.76 475.70,72.67 476.00,74.13 476.30,73.76 476.60,73.16 476.90,74.01 477.20,73.38 477.50,73.50 477.80,74.95 478.10,73.50 478.40,72.17 478.70,74.35 479.00,73.36 479.30,73.49 479.60,75.36 479.90,74.16 480.20,74.86 480.50,73.22 480.80,73.51 481.10,73.69 481.40,74.89 481.70,73.87 482.00,72.94 482.30,75.00 482.60,74.06 482.90,74.56 483.20,75.10 483.50,76.19 483.80,74.56 484.10,75.82 484.40,73.62 484.70,74.82 485.00,74.96 485.30,73.09 485.60,74.05 485.90,74.28 486.20,75.25 486.50,74.53 486.80,74.63 487.10,74.47 487.40,75.36 487.70,75.01 488.00,75.03 488.30,74.95 488.60,75.69 488.90,74.67 489.20,75.23 489.50,75.30 489.80,75.62 490.10,76.13 490.40,75.67 490.70,74.44 491.00,76.25 491.30,76.45 491.60,76.53 491.90,76.27 492.20,74.48 492.50,75.60 492.80,76.33 493.10,76.39 493.40,75.74 493.70,75.94 494.00,75.06 494.30,76.22 494.60,74.39 494.90,75.82 495.20,76.74 495.50,75.15 495.80,77.04 496.10,77.59 496.40,76.53 496.70,75.78 497.00,75.84 497.30,75.32 497.60,76.80 497.90,75.44 498.20,76.44 498.50,75.50 498.80,76.76 499.10,75.33 499.40,76.30 499.70,75.87 500.00,77.19 500.30,76.14 500.60,76.34 500.90,77.32 501.20,75.65 501.50,75.57 501.80,76.46 502.10,75.74 502.40,77.78 502.70,76.63 503.00,76.72 503.30,76.29 503.60,74.17 503.90,77.49 504.20,76.45 504.50,75.01 504.80,75.71 505.10,76.50 505.40,77.44 505.70,76.75 506.00,76.75 506.30,76.71 506.60,75.77 506.90,75.92 507.20,76.41 507.50,75.36 507.80,76.36 508.10,76.81 508.40,74.49 508.70,76.07 509.00,75.99 509.30,76.23 509.60,77.44 509.90,75.04 510.20,77.49 510.50,76.50 510.80,77.81 511.10,75.61 511.40,76.12 511.70,75.71 512.00,76.13 512.30,75.02 512.60,75.05 512.90,75.46 513.20,76.01 513.50,74.49 513.80,75.17 514.10,74.89 514.40,75.53 514.70,75.87 515.00,74.06 515.30,74.37 515.60,74.81 515.90,74.25 516.20,76.02 516.50,76.17 516.80,75.40 517.10,75.17 517.40,73.89 517.70,73.94 518.00,74.92 518.30,75.67 518.60,74.23 518.90,74.65 519.20,75.60 519.50,75.64 519.80,73.52 520.10,74.43 520.40,74.74 520.70,72.88 521.00,73.72 521.30,74.17 521.60,73.59 521.90,74.33 522.20,73.60 522.50,72.56 522.80,72.86 523.10,72.16 523.40,72.73 523.70,74.13 524.00,73.87 524.30,74.01 524.60,74.58 524.90,72.71 525.20,73.18 525.50,73.63 525.80,74.77 526.10,73.71 526.40,73.38 526.70,73.70 527.00,72.78 527.30,71.98 527.60,73.82 527.90,73.14 528.20,73.80 528.50,72.56 528.80,72.78 529.10,74.03 529.40,73.61 529.70,74.17 530.00,72.95 530.30,73.51 530.60,73.98 530.90,74.14 531.20,73.43 531.50,73.68 531.80,73.40 532.10,73.36 532.40,73.43 532.70,73.82 533.00,72.47 533.30,73.44 533.60,72.71 533.90,73.49 534.20,73.28 534.50,73.61 534.80,73.29 535.10,73.36 535.40,72.43 535.70,74.53 536.00,72.46 536.30,72.07 536.60,73.76 536.90,73.95 537.20,73.45 537.50,73.27 537.80,72.67 538.10,74.94 538.40,72.27 538.70,75.32 539.00,72.39 539.30,72.82 539.60,73.43 539.90,73.29 540.20,74.01 540.50,73.02 540.80,73.42 541.10,72.50 541.40,74.61 541.70,73.51 542.00,73.20" fill="none" stroke="#e00a10" stroke-width="1.8" stroke-linejoin="round"/>
<path d="M296.00,226.69 296.30,227.43 296.60,227.24 296.90,226.71 297.20,227.42 297.50,227.70 297.80,227.91 298.10,227.61 298.40,228.37 298.70,227.44 299.00,228.33 299.30,227.92 299.60,228.58 299.90,228.34 300.20,229.20 300.50,228.72 300.80,229.74 301.10,228.67 301.40,229.87 301.70,228.94 302.00,228.17 302.30,229.07 302.60,230.16 302.90,229.89 303.20,230.11 303.50,229.72 303.80,230.17 304.10,229.54 304.40,231.00 304.70,230.99 305.00,230.46 305.30,230.00 305.60,230.03 305.90,230.72 306.20,230.65 306.50,230.08 306.80,230.95 307.10,231.07 307.40,230.97 307.70,230.95 308.00,230.92 308.30,230.86 308.60,230.77 308.90,230.68 309.20,231.60 309.50,230.34 309.80,231.17 310.10,231.56 310.40,232.26 310.70,231.09 311.00,231.92 311.30,231.92 311.60,231.81 311.90,232.26 312.20,230.73 312.50,231.95 312.80,231.51 313.10,231.78 313.40,231.57 313.70,231.29 314.00,230.88 314.30,231.90 314.60,231.65 314.90,231.20 315.20,231.75 315.50,231.35 315.80,231.47 316.10,231.94 316.40,232.22 316.70,231.09 317.00,231.88 317.30,232.18 317.60,231.42 317.90,231.83 318.20,232.10 318.50,232.37 318.80,231.51 319.10,231.31 319.40,231.73 319.70,231.78 320.00,231.98 320.30,232.01 320.60,231.19 320.90,232.29 321.20,231.30 321.50,232.13 321.80,232.20 322.10,232.16 322.40,232.11 322.70,232.13 323.00,231.65 323.30,231.63 323.60,232.86 323.90,232.63 324.20,232.54 324.50,232.32 324.80,231.30 325.10,232.75 325.40,231.87 325.70,231.95 326.00,232.28 326.30,231.67 326.60,232.50 326.90,230.93 327.20,232.45 327.50,232.15 327.80,231.57 328.10,232.28 328.40,232.41 328.70,232.25 329.00,232.31 329.30,231.80 329.60,232.34 329.90,232.34 330.20,232.43 330.50,232.16 330.80,231.16 331.10,232.09 331.40,231.30 331.70,231.52 332.00,231.78 332.30,231.90 332.60,231.69 332.90,231.95 333.20,232.02 333.50,231.87 333.80,231.81 334.10,231.92 334.40,232.06 334.70,231.35 335.00,231.09 335.30,232.18 335.60,231.77 335.90,230.70 336.20,232.18 336.50,232.18 336.80,230.88 337.10,231.15 337.40,231.43 337.70,231.11 338.00,231.36 338.30,231.60 338.60,232.05 338.90,230.51 339.20,231.63 339.50,232.06 339.80,230.50 340.10,231.71 340.40,231.52 340.70,231.29 341.00,231.87 341.30,232.12 341.60,232.01 341.90,232.42 342.20,231.17 342.50,230.56 342.80,231.23 343.10,231.54 343.40,231.98 343.70,231.68 344.00,231.15 344.30,232.03 344.60,231.60 344.90,231.48 345.20,231.26 345.50,231.51 345.80,231.56 346.10,231.28 346.40,230.14 346.70,230.80 347.00,231.38 347.30,231.88 347.60,231.66 347.90,231.59 348.20,231.86 348.50,231.32 348.80,231.59 349.10,231.40 349.40,230.99 349.70,230.40 350.00,229.99 350.30,230.96 350.60,230.08 350.90,230.59 351.20,230.96 351.50,230.19 351.80,230.96 352.10,230.49 352.40,229.95 352.70,230.64 353.00,230.66 353.30,229.97 353.60,230.42 353.90,229.50 354.20,230.08 354.50,230.10 354.80,229.32 355.10,229.84 355.40,230.50 355.70,229.27 356.00,228.91 356.30,228.65 356.60,228.93 356.90,228.64 357.20,228.23 357.50,229.14 357.80,229.18 358.10,228.33 358.40,228.83 358.70,229.25 359.00,228.82 359.30,228.62 359.60,228.82 359.90,227.91 360.20,228.76 360.50,229.26 360.80,227.61 361.10,226.74 361.40,227.36 361.70,227.09 362.00,227.77 362.30,228.31 362.60,227.80 362.90,228.45 363.20,227.53 363.50,227.18 363.80,225.73 364.10,227.15 364.40,226.34 364.70,226.28 365.00,226.33 365.30,227.48 365.60,226.84 365.90,226.13 366.20,224.97 366.50,225.53 366.80,225.50 367.10,226.17 367.40,225.80 367.70,225.64 368.00,224.43 368.30,225.67 368.60,226.83 368.90,223.65 369.20,223.78 369.50,224.46 369.80,225.01 370.10,224.34 370.40,224.09 370.70,225.02 371.00,222.92 371.30,222.03 371.60,222.31 371.90,224.02 372.20,224.03 372.50,222.87 372.80,221.92 373.10,222.28 373.40,223.19 373.70,223.58 374.00,222.22 374.30,221.98 374.60,221.84 374.90,222.03 375.20,223.02 375.50,222.59 375.80,222.70 376.10,222.47 376.40,222.54 376.70,221.31 377.00,221.51 377.30,222.67 377.60,222.72 377.90,223.29 378.20,222.37 378.50,221.75 378.80,222.32 379.10,222.32 379.40,222.98 379.70,222.45 380.00,223.05 380.30,223.12 380.60,223.17 380.90,223.26 381.20,222.04 381.50,223.81 381.80,224.28 382.10,223.69 382.40,224.37 382.70,223.50 383.00,222.80 383.30,223.72 383.60,223.33 383.90,223.33 384.20,224.75 384.50,222.86 384.80,224.49 385.10,223.24 385.40,222.40 385.70,224.37 386.00,223.95 386.30,224.09 386.60,224.18 386.90,224.88 387.20,224.38 387.50,223.97 387.80,224.14 388.10,224.60 388.40,223.88 388.70,224.63 389.00,222.83 389.30,224.29 389.60,224.39 389.90,224.94 390.20,223.60 390.50,224.25 390.80,224.72 391.10,226.48 391.40,224.46 391.70,224.73 392.00,223.79 392.30,225.73 392.60,223.83 392.90,223.67 393.20,223.79 393.50,222.44 393.80,222.37 394.10,222.51 394.40,221.65 394.70,222.46 395.00,220.25 395.30,221.18 395.60,217.02 395.90,212.08 396.20,206.99 396.50,199.09 396.80,187.04 397.10,175.69 397.40,165.18 397.60,163.20 397.70,163.88 398.00,174.49 398.30,182.63 398.60,195.03 398.90,202.93 399.20,211.12 399.50,216.84 399.80,219.21 400.10,222.36 400.40,223.42 400.70,223.18 401.00,224.10 401.30,225.18 401.60,225.38 401.90,225.27 402.20,224.51 402.50,226.95 402.80,226.25 403.10,226.53 403.40,226.11 403.70,227.69 404.00,226.79 404.30,227.09 404.60,225.80 404.90,226.89 405.20,227.23 405.50,227.59 405.80,227.85 406.10,227.37 406.40,228.19 406.70,227.55 407.00,227.58 407.30,227.73 407.60,226.76 407.90,226.49 408.20,228.99 408.50,226.88 408.80,227.60 409.10,228.36 409.40,227.65 409.70,228.76 410.00,226.96 410.30,228.25 410.60,228.57 410.90,229.53 411.20,229.15 411.50,227.90 411.80,228.87 412.10,228.56 412.40,227.73 412.70,228.17 413.00,229.12 413.30,228.37 413.60,228.02 413.90,228.25 414.20,227.91 414.50,227.77 414.80,228.91 415.10,228.99 415.40,229.34 415.70,227.90 416.00,228.17 416.30,229.06 416.60,228.92 416.90,228.76 417.20,228.20 417.50,228.71 417.80,228.11 418.10,229.76 418.40,229.30 418.70,228.36 419.00,229.60 419.30,228.33 419.60,229.22 419.90,228.97 420.20,228.63 420.50,229.59 420.80,227.87 421.10,228.58 421.40,228.53 421.70,227.64 422.00,227.73 422.30,228.57 422.60,228.47 422.90,227.51 423.20,228.16 423.50,227.81 423.80,227.67 424.10,226.66 424.40,226.38 424.70,226.46 425.00,225.27 425.30,224.65 425.60,223.95 425.90,224.68 426.20,224.60 426.50,221.34 426.80,221.26 427.10,220.19 427.40,218.02 427.70,212.52 428.00,205.06 428.30,198.69 428.60,191.13 428.90,177.54 429.20,169.24 429.50,164.30 429.50,161.74 429.80,169.57 430.10,179.63 430.40,189.55 430.70,198.50 431.00,206.21 431.30,212.37 431.60,216.19 431.90,219.98 432.20,221.47 432.50,223.67 432.80,224.52 433.10,224.96 433.40,225.61 433.70,226.34 434.00,225.85 434.30,227.32 434.60,227.28 434.90,227.73 435.20,227.35 435.50,227.58 435.80,227.92 436.10,228.02 436.40,227.83 436.70,227.95 437.00,227.92 437.30,228.08 437.60,227.93 437.90,227.96 438.20,227.90 438.50,229.29 438.80,228.17 439.10,228.53 439.40,228.06 439.70,228.72 440.00,229.35 440.30,228.28 440.60,228.79 440.90,228.67 441.20,229.20 441.50,228.67 441.80,228.66 442.10,228.57 442.40,227.60 442.70,229.21 443.00,229.54 443.30,228.09 443.60,228.96 443.90,228.36 444.20,229.01 444.50,227.56 444.80,227.65 445.10,227.43 445.40,225.74 445.70,223.84 446.00,221.58 446.30,219.02 446.60,218.38 446.70,218.00 446.90,220.01 447.20,220.71 447.50,222.31 447.80,223.35 448.10,226.66 448.40,227.88 448.70,228.01 449.00,228.66 449.30,228.85 449.60,228.36 449.90,228.07 450.20,227.90 450.50,227.94 450.80,225.96 451.10,224.44 451.40,225.00 451.40,225.25 451.70,225.61 452.00,226.78 452.30,227.01 452.60,228.07 452.90,228.94 453.20,229.51 453.50,230.06 453.80,230.35 454.10,230.22 454.40,230.17 454.70,229.87 455.00,230.20 455.30,229.77 455.60,230.24 455.90,230.84 456.20,230.97 456.50,230.31 456.80,231.37 457.10,229.83 457.40,231.18 457.70,231.00 458.00,230.97 458.30,231.27 458.60,230.96 458.90,232.16 459.20,231.02 459.50,231.11 459.80,231.42 460.10,230.48 460.40,231.29 460.70,230.77 461.00,231.97 461.30,231.20 461.60,231.37 461.90,230.69 462.20,232.22 462.50,230.73 462.80,230.85 463.10,231.16 463.40,230.53 463.70,230.93 464.00,231.32 464.30,231.95 464.60,231.98 464.90,231.04 465.20,231.29 465.50,231.82 465.80,232.04 466.10,231.20 466.40,231.45 466.70,231.56 467.00,231.63 467.30,231.48 467.60,232.34 467.90,231.51 468.20,232.11 468.50,231.84 468.80,233.10 469.10,232.25 469.40,230.85 469.70,231.92 470.00,230.81 470.30,232.23 470.60,231.55 470.90,230.81 471.20,231.27 471.50,231.55 471.80,232.29 472.10,231.74 472.40,231.90 472.70,231.43 473.00,231.51 473.30,231.10 473.60,231.55 473.90,231.60 474.20,231.69 474.50,231.38 474.80,231.63 475.10,231.53 475.40,231.82 475.70,231.46 476.00,231.48 476.30,231.36 476.60,231.44 476.90,231.61 477.20,231.31 477.50,232.24 477.80,232.16 478.10,231.89 478.40,232.06 478.70,231.25 479.00,231.49 479.30,231.56 479.60,231.86 479.90,232.09 480.20,232.12 480.50,231.17 480.80,231.75 481.10,232.23 481.40,231.67 481.70,231.97 482.00,231.10 482.30,231.81 482.60,231.68 482.90,230.98 483.20,232.12 483.50,232.36 483.80,232.13 484.10,231.66 484.40,231.75 484.70,231.54 485.00,232.06 485.30,232.00 485.60,232.40 485.90,231.81 486.20,232.19 486.50,231.72 486.80,231.53 487.10,231.81 487.40,231.47 487.70,231.47 488.00,232.12 488.30,232.10 488.60,231.49 488.90,231.44 489.20,231.73 489.50,231.50 489.80,232.09 490.10,231.66 490.40,231.26 490.70,231.44 491.00,231.96 491.30,232.62 491.60,231.99 491.90,231.21 492.20,231.39 492.50,231.83 492.80,231.68 493.10,231.81 493.40,232.57 493.70,231.31 494.00,231.32 494.30,231.70 494.60,231.72 494.90,231.78 495.20,232.03 495.50,231.67 495.80,232.10 496.10,231.72 496.40,231.79 496.70,230.90 497.00,231.23 497.30,231.41 497.60,231.83 497.90,231.25 498.20,231.09 498.50,231.15 498.80,232.16 499.10,230.75 499.40,231.45 499.70,231.32 500.00,231.87 500.30,231.48 500.60,230.95 500.90,231.39 501.20,231.49 501.50,230.62 501.80,229.86 502.10,229.90 502.40,230.30 502.70,229.53 503.00,229.82 503.30,230.00 503.60,229.07 503.90,229.59 504.20,227.42 504.50,225.45 504.80,224.53 505.10,222.47 505.40,216.69 505.70,213.40 506.00,208.72 506.30,200.43 506.60,196.60 506.90,188.51 507.00,190.40 507.20,188.98 507.50,193.49 507.80,200.41 508.10,209.89 508.40,214.72 508.70,220.15 509.00,221.61 509.30,223.40 509.60,226.72 509.90,226.78 510.20,227.01 510.50,228.84 510.80,229.34 511.10,228.62 511.40,229.34 511.70,229.73 512.00,229.10 512.30,229.29 512.60,229.95 512.90,230.73 513.20,229.49 513.50,230.45 513.80,230.40 514.10,230.26 514.40,230.11 514.70,229.83 515.00,230.61 515.30,230.25 515.60,229.10 515.90,230.49 516.20,229.95 516.50,230.26 516.80,231.29 517.10,230.41 517.40,229.09 517.70,229.73 518.00,229.02 518.30,229.63 518.60,226.30 518.90,227.41 519.20,225.63 519.50,223.89 519.80,223.58 519.90,223.20 520.10,222.10 520.40,224.37 520.70,226.31 521.00,227.80 521.30,228.79 521.60,230.00 521.90,230.36 522.20,230.43 522.50,229.99 522.80,231.35 523.10,231.83 523.40,231.80 523.70,231.54 524.00,231.95 524.30,230.83 524.60,231.89 524.90,231.74 525.20,231.60 525.50,232.16 525.80,231.63 526.10,231.57 526.40,231.32 526.70,230.99 527.00,231.59 527.30,232.54 527.60,232.60 527.90,231.57 528.20,231.91 528.50,232.49 528.80,231.41 529.10,231.65 529.40,231.24 529.70,232.50 530.00,231.53 530.30,231.61 530.60,231.70 530.90,231.27 531.20,232.65 531.50,231.85 531.80,231.96 532.10,229.33 532.40,229.84 532.70,228.00 533.00,225.81 533.30,225.34 533.50,224.90 533.60,225.91 533.90,225.75 534.20,229.82 534.50,229.77 534.80,229.81 535.10,230.56 535.40,231.13 535.70,231.66 536.00,231.64 536.30,231.70 536.60,232.46 536.90,231.86 537.20,232.23 537.50,231.97 537.80,232.16 538.10,232.77 538.40,232.33 538.70,232.66 539.00,232.34 539.30,232.83 539.60,232.39 539.90,232.87 540.20,231.92 540.50,232.88 540.80,232.63 541.10,232.10 541.40,232.20 541.70,231.69 542.00,232.37" fill="none" stroke="#e00a10" stroke-width="1.7" stroke-linejoin="round"/>
<path d="M296.00,301.08 296.30,300.54 296.60,302.08 296.90,299.27 297.20,301.13 297.50,300.30 297.80,301.06 298.10,302.39 298.40,301.70 298.70,303.15 299.00,301.57 299.30,301.38 299.60,301.81 299.90,300.80 300.20,301.42 300.50,302.22 300.80,303.19 301.10,301.50 301.40,301.64 301.70,301.08 302.00,301.30 302.30,302.55 302.60,302.69 302.90,302.98 303.20,302.49 303.50,303.72 303.80,301.21 304.10,302.79 304.40,303.43 304.70,302.57 305.00,303.28 305.30,302.70 305.60,302.57 305.90,303.06 306.20,302.33 306.50,302.88 306.80,303.44 307.10,301.88 307.40,303.47 307.70,303.89 308.00,304.29 308.30,302.47 308.60,303.75 308.90,301.01 309.20,301.39 309.50,302.63 309.80,301.51 310.10,301.60 310.40,301.46 310.70,302.03 311.00,301.65 311.30,301.31 311.60,302.05 311.90,301.53 312.20,301.92 312.50,302.11 312.80,302.23 313.10,301.43 313.40,301.13 313.70,301.00 314.00,300.27 314.30,301.50 314.60,300.87 314.90,301.67 315.20,300.81 315.50,299.90 315.80,300.90 316.10,299.67 316.40,299.67 316.70,299.97 317.00,299.61 317.30,298.60 317.60,299.83 317.80,299.20 317.90,299.18 318.20,299.06 318.50,299.54 318.80,298.13 319.10,300.79 319.40,297.61 319.70,299.11 320.00,299.33 320.30,300.74 320.60,300.61 320.90,301.06 321.20,299.83 321.50,302.11 321.80,301.97 322.10,299.44 322.40,301.56 322.70,299.75 323.00,301.04 323.30,302.08 323.60,301.65 323.90,300.51 324.20,301.13 324.50,302.65 324.80,301.84 325.10,302.32 325.40,300.15 325.70,302.06 326.00,301.72 326.30,300.63 326.60,302.61 326.90,301.23 327.20,301.90 327.50,300.52 327.80,301.12 328.10,300.98 328.40,300.09 328.70,299.82 329.00,299.29 329.30,297.82 329.60,294.98 329.90,293.45 330.20,288.63 330.50,282.76 330.80,273.92 331.10,267.00 331.40,257.88 331.70,252.37 331.90,249.90 332.00,251.07 332.30,254.35 332.60,261.42 332.90,272.51 333.20,280.05 333.50,287.28 333.80,292.65 334.10,294.66 334.40,296.09 334.70,298.51 335.00,298.53 335.30,298.65 335.60,300.03 335.90,299.70 336.20,300.52 336.50,299.26 336.80,300.20 337.10,300.15 337.40,300.41 337.70,299.95 338.00,301.07 338.30,299.27 338.60,300.92 338.90,301.49 339.20,300.52 339.50,300.59 339.80,299.84 340.10,300.71 340.40,300.84 340.70,300.57 341.00,300.70 341.30,300.80 341.60,300.47 341.90,298.63 342.20,299.16 342.50,299.96 342.80,301.82 343.10,300.77 343.40,299.69 343.70,299.39 344.00,299.00 344.30,299.67 344.60,298.64 344.90,298.62 345.20,297.33 345.50,296.94 345.80,295.16 346.10,293.04 346.40,289.51 346.70,284.78 347.00,275.91 347.30,267.43 347.60,258.98 347.80,257.60 347.90,257.36 348.20,262.64 348.50,270.80 348.80,277.53 349.10,285.09 349.40,287.91 349.70,291.39 350.00,291.11 350.30,289.92 350.60,288.58 350.90,285.40 351.20,281.67 351.50,271.43 351.80,263.29 352.10,256.89 352.30,255.30 352.40,255.72 352.70,262.13 353.00,270.05 353.30,281.09 353.60,287.76 353.90,291.43 354.20,295.17 354.50,295.65 354.80,296.04 355.10,295.88 355.40,296.65 355.70,297.92 356.00,297.84 356.30,299.00 356.60,299.01 356.90,298.44 357.20,297.76 357.50,299.13 357.80,297.52 358.10,295.44 358.40,297.19 358.70,297.73 359.00,297.75 359.30,297.69 359.60,297.81 359.90,294.88 360.20,299.01 360.50,297.51 360.80,297.10 361.10,295.37 361.40,297.69 361.70,296.00 362.00,294.87 362.30,296.29 362.60,294.45 362.90,290.44 363.20,284.37 363.50,278.82 363.80,272.93 364.00,271.70 364.10,272.46 364.40,275.66 364.70,284.50 365.00,289.48 365.30,295.50 365.60,297.45 365.90,298.77 366.20,301.36 366.50,300.57 366.80,300.82 367.10,301.48 367.40,302.78 367.70,298.52 368.00,301.47 368.30,301.11 368.60,302.05 368.90,301.10 369.20,301.01 369.50,301.54 369.80,300.95 370.10,300.16 370.40,300.87 370.70,302.35 371.00,301.12 371.30,298.44 371.60,300.07 371.90,298.97 372.20,299.95 372.50,296.82 372.80,295.16 373.10,291.27 373.40,285.22 373.70,276.92 374.00,273.00 374.10,272.40 374.30,273.15 374.60,279.57 374.90,285.71 375.20,291.92 375.50,296.14 375.80,297.71 376.10,299.16 376.40,297.87 376.70,299.29 377.00,298.95 377.30,296.67 377.60,300.01 377.90,298.91 378.20,297.92 378.50,298.83 378.80,297.56 379.10,293.90 379.40,294.85 379.70,294.61 380.00,290.43 380.30,288.34 380.60,283.65 380.90,281.83 381.20,282.30 381.20,283.25 381.50,283.51 381.80,281.91 382.10,286.89 382.40,286.33 382.70,288.80 383.00,291.48 383.30,292.07 383.60,293.38 383.90,294.06 384.20,295.14 384.50,293.72 384.80,293.44 385.10,293.13 385.40,295.46 385.70,293.69 386.00,292.76 386.30,290.89 386.60,288.88 386.90,287.73 387.20,283.69 387.50,279.23 387.80,275.59 388.10,275.49 388.40,268.57 388.70,265.54 389.00,263.50 389.30,263.35 389.40,262.30 389.60,262.46 389.90,264.72 390.20,266.09 390.50,270.84 390.80,275.57 391.10,278.56 391.40,281.89 391.70,285.30 392.00,287.35 392.30,289.08 392.60,290.62 392.90,293.08 393.20,291.76 393.50,292.81 393.80,295.08 394.10,295.78 394.40,295.04 394.70,294.36 395.00,293.79 395.30,295.86 395.60,295.53 395.90,295.67 396.20,295.66 396.50,294.13 396.80,293.95 397.10,293.78 397.40,292.53 397.70,289.67 398.00,288.25 398.30,287.71 398.60,287.40 398.60,289.48 398.90,288.27 399.20,289.38 399.50,291.84 399.80,293.35 400.10,293.84 400.40,292.60 400.70,296.28 401.00,295.92 401.30,296.67 401.60,296.01 401.90,296.72 402.20,297.29 402.50,296.08 402.80,296.82 403.10,298.19 403.40,298.49 403.70,296.27 404.00,298.48 404.30,298.45 404.60,296.65 404.90,295.29 405.20,293.79 405.40,293.50 405.50,293.22 405.80,296.21 406.10,296.92 406.40,297.24 406.70,300.06 407.00,300.95 407.30,300.72 407.60,299.49 407.90,300.86 408.20,297.45 408.50,301.05 408.80,298.95 409.10,294.94 409.40,291.99 409.70,292.99 410.00,289.04 410.10,288.70 410.30,289.54 410.60,291.53 410.90,294.51 411.20,297.37 411.50,298.89 411.80,298.49 412.10,300.09 412.40,300.16 412.70,299.12 413.00,300.85 413.30,300.35 413.60,298.72 413.90,300.91 414.20,299.25 414.50,299.15 414.80,295.88 415.10,294.10 415.40,292.06 415.70,288.87 416.00,288.00 416.00,286.69 416.30,290.35 416.60,290.68 416.90,293.15 417.20,294.77 417.50,293.78 417.80,295.78 418.10,291.68 418.40,292.93 418.70,291.82 419.00,290.64 419.30,287.25 419.60,286.31 419.90,285.28 420.00,283.30 420.20,284.12 420.50,283.44 420.80,286.81 421.10,289.24 421.40,288.62 421.70,288.66 422.00,285.62 422.30,281.68 422.60,272.62 422.90,264.06 423.20,253.41 423.50,243.82 423.70,241.20 423.80,241.64 424.10,249.55 424.40,258.85 424.70,271.96 425.00,280.17 425.30,285.18 425.60,289.75 425.90,289.49 426.20,291.27 426.50,292.35 426.80,291.53 427.10,291.82 427.40,293.79 427.70,292.72 428.00,292.19 428.30,292.75 428.60,292.65 428.90,292.41 429.20,293.25 429.50,291.69 429.80,290.83 430.10,291.49 430.40,290.38 430.70,290.26 431.00,286.49 431.30,285.61 431.60,285.71 431.90,284.36 432.00,284.00 432.20,283.39 432.50,285.60 432.80,286.27 433.10,287.00 433.40,288.68 433.70,289.81 434.00,291.81 434.30,289.22 434.60,291.24 434.90,292.83 435.20,289.88 435.50,290.31 435.80,290.05 436.10,286.82 436.40,287.70 436.40,286.85 436.70,289.00 437.00,290.37 437.30,292.06 437.60,294.62 437.90,295.73 438.20,297.17 438.50,296.19 438.80,296.62 439.10,296.34 439.40,297.87 439.70,297.76 440.00,295.66 440.30,293.89 440.60,296.60 440.90,292.14 441.20,293.20 441.20,292.63 441.50,295.00 441.80,294.88 442.10,293.99 442.40,294.61 442.70,292.98 443.00,292.87 443.30,290.55 443.40,291.00 443.60,291.96 443.90,292.62 444.20,293.48 444.50,297.64 444.80,298.35 445.10,298.09 445.40,299.10 445.70,300.30 446.00,301.12 446.30,301.77 446.60,302.17 446.90,302.21 447.20,301.72 447.50,304.07 447.80,302.00 448.10,301.67 448.40,302.74 448.70,301.48 449.00,302.66 449.30,302.39 449.60,303.19 449.90,301.41 450.20,300.59 450.50,303.32 450.80,302.11 451.10,303.82 451.40,302.92 451.70,301.86 452.00,302.58 452.30,301.22 452.60,301.39 452.90,302.27 453.20,302.37 453.50,300.75 453.80,302.93 454.10,302.70 454.40,303.17 454.70,300.94 455.00,302.74 455.30,301.67 455.60,301.78 455.90,303.13 456.20,302.24 456.50,302.69 456.80,302.96 457.10,303.16 457.40,301.33 457.70,301.29 458.00,302.44 458.30,302.59 458.60,301.46 458.90,302.44 459.20,301.31 459.50,301.81 459.80,301.94 460.10,302.22 460.40,302.60 460.70,301.70 461.00,302.12 461.30,301.23 461.60,302.60 461.90,302.43 462.20,301.37 462.50,303.34 462.80,301.32 463.10,300.82 463.40,300.33 463.70,300.66 464.00,300.10 464.30,299.07 464.60,299.71 464.90,299.83 465.20,299.69 465.50,298.13 465.80,296.49 466.10,295.49 466.20,295.90 466.40,297.42 466.70,299.07 467.00,297.77 467.30,297.80 467.60,298.31 467.90,299.67 468.20,300.00 468.50,298.75 468.80,298.17 469.10,297.00 469.40,298.11 469.70,293.90 470.00,292.59 470.30,289.01 470.50,288.30 470.60,287.62 470.90,291.93 471.20,294.40 471.50,296.85 471.80,299.69 472.10,299.35 472.40,299.79 472.70,299.93 473.00,299.92 473.30,300.73 473.60,299.11 473.90,300.18 474.20,299.96 474.50,297.26 474.80,296.85 475.10,293.85 475.40,293.30 475.70,293.04 475.90,291.50 476.00,291.21 476.30,292.65 476.60,293.71 476.90,294.58 477.20,295.60 477.50,297.84 477.80,294.19 478.10,296.10 478.40,297.41 478.70,296.48 479.00,296.81 479.30,296.71 479.60,296.19 479.90,296.38 480.20,295.69 480.50,296.34 480.80,297.00 481.10,297.21 481.40,296.77 481.70,296.08 482.00,295.94 482.30,294.78 482.60,296.08 482.90,295.39 483.20,295.60 483.50,295.89 483.80,296.23 484.10,296.28 484.40,296.16 484.70,295.15 485.00,295.72 485.30,296.70 485.60,296.00 485.90,296.44 486.20,296.12 486.50,297.37 486.80,297.51 487.10,298.30 487.40,295.74 487.70,296.76 488.00,294.93 488.30,296.68 488.60,296.45 488.90,295.72 489.20,297.31 489.50,296.19 489.80,294.71 490.10,297.35 490.40,296.21 490.70,297.01 491.00,296.02 491.30,296.27 491.60,296.27 491.90,296.82 492.20,298.80 492.50,299.06 492.80,297.52 493.10,299.25 493.40,299.49 493.70,298.92 494.00,299.92 494.30,299.07 494.60,300.68 494.90,299.67 495.20,300.15 495.50,297.06 495.80,299.73 496.10,300.22 496.40,299.73 496.70,300.16 497.00,299.60 497.30,301.23 497.60,299.66 497.90,300.35 498.20,301.93 498.50,301.76 498.80,300.79 499.10,299.78 499.40,299.29 499.70,301.37 500.00,301.26 500.30,300.87 500.60,300.93 500.90,303.08 501.20,302.08 501.50,301.38 501.80,301.24 502.10,301.18 502.40,301.82 502.70,301.36 503.00,301.72 503.30,301.30 503.60,302.38 503.90,301.98 504.20,300.82 504.50,304.38 504.80,302.15 505.10,301.54 505.40,300.91 505.70,302.08 506.00,301.52 506.30,303.56 506.60,302.57 506.90,301.63 507.20,300.63 507.50,302.90 507.80,300.77 508.10,302.68 508.40,302.39 508.70,299.89 509.00,302.09 509.30,303.77 509.60,301.57 509.90,300.39 510.20,300.88 510.50,302.31 510.80,302.65 511.10,303.13 511.40,302.65 511.70,301.59 512.00,302.04 512.30,302.23 512.60,302.30 512.90,301.34 513.20,303.00 513.50,303.40 513.80,302.31 514.10,302.53 514.40,301.23 514.70,302.44 515.00,301.46 515.30,301.26 515.60,302.61 515.90,301.87 516.20,301.17 516.50,299.96 516.80,301.23 517.10,302.46 517.40,301.08 517.70,300.79 518.00,301.43 518.30,301.99 518.60,300.40 518.90,300.56 519.20,299.60 519.50,299.61 519.80,299.33 520.10,299.67 520.40,298.04 520.70,298.50 521.00,298.26 521.30,297.69 521.60,297.02 521.90,298.06 522.20,296.81 522.50,295.59 522.80,297.43 523.10,295.37 523.40,297.18 523.70,294.14 524.00,296.27 524.30,297.78 524.60,295.93 524.90,297.11 525.20,295.71 525.50,295.38 525.80,295.81 526.10,296.90 526.40,297.20 526.70,297.32 527.00,296.85 527.30,296.04 527.60,294.28 527.90,295.39 528.20,297.40 528.50,294.63 528.80,296.49 529.10,296.44 529.40,294.56 529.70,296.36 530.00,295.70 530.30,296.23 530.60,295.96 530.90,295.87 531.20,295.24 531.50,294.28 531.80,297.64 532.10,295.30 532.40,295.84 532.70,295.74 533.00,295.83 533.30,295.43 533.60,296.61 533.90,296.11 534.20,295.70 534.50,295.61 534.80,296.61 535.10,295.35 535.40,296.66 535.70,297.39 536.00,297.18 536.30,296.75 536.60,294.78 536.90,296.95 537.20,296.56 537.50,297.57 537.80,295.88 538.10,295.99 538.40,297.73 538.70,295.74 539.00,297.52 539.30,296.82 539.60,294.34 539.90,296.16 540.20,296.18 540.50,295.42 540.80,294.95 541.10,296.75 541.40,295.80 541.70,296.15 542.00,295.94" fill="none" stroke="#e00a10" stroke-width="1.8" stroke-linejoin="round"/>
<path d="M296.00,382.27 296.50,382.38 297.00,382.42 297.50,382.38 298.00,382.24 298.50,382.27 299.00,382.38 299.50,382.48 300.00,382.28 300.50,382.10 301.00,382.33 301.50,382.38 302.00,382.22 302.50,382.46 303.00,382.21 303.50,382.28 304.00,382.33 304.50,382.52 305.00,382.10 305.50,382.35 306.00,382.39 306.50,382.25 307.00,382.42 307.50,382.17 308.00,382.09 308.50,382.08 309.00,382.16 309.50,382.10 310.00,382.33 310.50,382.26 311.00,382.04 311.50,382.49 312.00,382.29 312.50,382.00 313.00,381.97 313.50,382.25 314.00,382.45 314.50,382.19 315.00,382.38 315.50,382.48 316.00,382.34 316.50,382.18 317.00,382.03 317.50,382.13 318.00,382.43 318.50,382.23 319.00,382.07 319.50,382.16 320.00,382.19 320.50,382.39 321.00,382.13 321.50,382.50 322.00,382.25 322.50,382.27 323.00,382.04 323.50,382.27 324.00,382.24 324.50,382.31 325.00,382.09 325.50,382.23 326.00,381.96 326.50,382.04 327.00,382.54 327.50,382.12 328.00,382.07 328.50,382.32 329.00,382.15 329.50,382.57 330.00,382.18 330.50,382.28 331.00,382.13 331.50,382.34 332.00,382.17 332.50,382.57 333.00,382.04 333.50,382.22 334.00,382.25 334.50,381.97 335.00,382.05 335.50,382.01 336.00,381.86 336.50,382.16 337.00,381.66 337.50,381.88 338.00,381.89 338.50,382.08 339.00,381.99 339.50,382.12 340.00,382.07 340.50,381.78 341.00,381.28 341.50,379.25 342.00,368.49 342.40,360.80 342.50,361.44 343.00,374.22 343.50,380.96 344.00,381.70 344.50,381.60 345.00,381.85 345.50,381.85 346.00,381.38 346.50,381.01 347.00,376.90 347.50,362.56 347.80,356.80 348.00,359.65 348.50,374.75 349.00,380.44 349.50,380.75 350.00,379.81 350.50,371.24 351.00,354.58 351.10,353.80 351.50,364.02 352.00,378.14 352.50,381.24 353.00,381.66 353.50,381.82 354.00,381.98 354.50,381.61 355.00,381.42 355.50,377.99 356.00,372.37 356.10,371.80 356.50,375.40 357.00,380.71 357.50,381.85 358.00,381.74 358.50,381.97 359.00,382.08 359.50,382.25 360.00,381.89 360.50,382.21 361.00,381.81 361.50,381.81 362.00,382.04 362.50,381.45 363.00,379.65 363.50,378.21 363.60,377.90 364.00,378.93 364.50,380.82 365.00,381.33 365.50,381.91 366.00,382.09 366.50,381.96 367.00,382.08 367.50,381.95 368.00,382.17 368.50,381.50 369.00,381.98 369.50,381.71 370.00,381.75 370.50,381.21 371.00,378.76 371.50,374.03 371.80,372.50 372.00,373.01 372.50,377.75 373.00,380.48 373.50,381.71 374.00,381.58 374.50,382.05 375.00,381.95 375.50,381.89 376.00,381.84 376.50,381.96 377.00,381.81 377.50,381.51 378.00,381.28 378.50,380.36 378.80,380.30 379.00,380.25 379.50,380.89 380.00,382.00 380.50,381.98 381.00,382.13 381.50,381.92 382.00,381.97 382.50,381.97 383.00,382.27 383.50,382.08 384.00,381.99 384.50,381.97 385.00,381.99 385.50,382.14 386.00,381.98 386.50,381.99 387.00,382.18 387.50,382.12 388.00,382.09 388.50,382.27 389.00,381.95 389.50,381.80 390.00,381.72 390.50,381.95 391.00,381.99 391.50,382.10 392.00,381.73 392.50,381.74 393.00,381.90 393.50,381.89 394.00,381.71 394.50,381.89 395.00,382.01 395.50,381.85 396.00,382.22 396.50,381.95 397.00,381.67 397.50,381.67 398.00,381.20 398.50,380.33 399.00,376.17 399.50,373.20 400.00,376.30 400.50,379.92 401.00,381.27 401.50,381.63 402.00,381.86 402.50,381.89 403.00,381.53 403.50,381.48 404.00,381.77 404.50,381.62 405.00,381.54 405.50,381.69 406.00,381.46 406.50,381.09 407.00,380.83 407.50,379.27 408.00,369.17 408.50,333.01 408.80,317.90 409.00,325.22 409.50,364.09 410.00,378.56 410.50,380.38 411.00,380.87 411.50,381.47 412.00,381.73 412.50,381.54 413.00,381.50 413.50,381.21 414.00,380.67 414.50,376.18 415.00,363.57 415.20,360.80 415.50,365.73 416.00,377.82 416.50,381.00 417.00,381.31 417.50,381.43 418.00,381.59 418.50,381.60 419.00,381.30 419.50,381.37 420.00,381.70 420.50,381.56 421.00,380.51 421.50,374.42 422.00,367.10 422.50,374.46 423.00,380.45 423.50,381.37 424.00,381.78 424.50,381.58 425.00,381.37 425.50,381.85 426.00,381.89 426.50,381.73 427.00,381.90 427.50,381.90 428.00,381.20 428.50,381.02 429.00,379.07 429.50,377.90 430.00,379.30 430.50,381.09 431.00,381.56 431.50,381.63 432.00,381.80 432.50,382.15 433.00,381.85 433.50,381.63 434.00,381.79 434.50,381.76 435.00,381.99 435.50,381.81 436.00,381.74 436.50,381.81 437.00,381.66 437.50,381.83 438.00,381.57 438.50,381.63 439.00,381.68 439.50,381.32 440.00,380.77 440.50,378.58 441.00,374.69 441.30,373.20 441.50,373.81 442.00,378.07 442.50,380.83 443.00,381.36 443.50,381.43 444.00,381.83 444.50,381.56 445.00,381.76 445.50,381.39 446.00,381.53 446.50,380.92 447.00,379.39 447.50,376.03 447.80,374.90 448.00,375.51 448.50,378.60 449.00,380.97 449.50,381.61 450.00,381.51 450.50,381.78 451.00,381.76 451.50,381.80 452.00,381.70 452.50,381.74 453.00,381.82 453.50,381.77 454.00,381.84 454.50,381.55 455.00,381.90 455.50,381.63 456.00,381.91 456.50,381.53 457.00,381.66 457.50,381.79 458.00,381.81 458.50,381.68 459.00,381.60 459.50,381.83 460.00,381.89 460.50,381.59 461.00,381.54 461.50,381.62 462.00,381.68 462.50,381.42 463.00,381.51 463.50,381.73 464.00,381.38 464.50,381.08 465.00,380.85 465.50,380.06 466.00,379.50 466.50,379.81 467.00,380.33 467.50,380.42 468.00,379.72 468.50,378.69 469.00,378.50 469.50,378.91 470.00,380.13 470.50,380.93 471.00,380.46 471.50,377.65 472.00,374.20 472.50,378.16 473.00,381.19 473.50,381.38 474.00,381.59 474.50,381.84 475.00,381.53 475.50,381.51 476.00,381.87 476.50,381.57 477.00,381.50 477.50,381.92 478.00,381.62 478.50,381.62 479.00,381.78 479.50,381.92 480.00,381.81 480.50,381.73 481.00,381.75 481.50,381.75 482.00,381.73 482.50,381.42 483.00,381.73 483.50,381.48 484.00,381.57 484.50,381.70 485.00,381.66 485.50,381.73 486.00,381.66 486.50,381.74 487.00,381.94 487.50,381.48 488.00,381.81 488.50,381.92 489.00,381.56 489.50,381.55 490.00,381.57 490.50,381.62 491.00,381.38 491.50,381.31 492.00,380.79 492.50,377.05 493.00,370.10 493.10,369.50 493.50,374.04 494.00,379.95 494.50,380.87 495.00,380.08 495.50,378.11 496.00,377.00 496.50,378.35 497.00,380.24 497.50,381.13 498.00,381.63 498.50,381.55 499.00,381.57 499.50,381.55 500.00,381.75 500.50,381.68 501.00,381.65 501.50,381.41 502.00,381.86 502.50,381.40 503.00,381.67 503.50,381.42 504.00,381.36 504.50,381.11 505.00,381.61 505.50,381.62 506.00,381.51 506.50,381.48 507.00,381.32 507.50,381.47 508.00,381.29 508.50,380.74 509.00,380.17 509.50,379.31 510.00,378.90 510.50,379.52 511.00,380.04 511.50,381.24 512.00,381.48 512.50,381.37 513.00,381.73 513.50,381.67 514.00,381.68 514.50,381.49 515.00,381.22 515.50,380.78 516.00,380.62 516.50,379.91 517.00,379.60 517.50,380.24 518.00,380.66 518.50,380.87 519.00,381.35 519.50,381.55 520.00,381.32 520.50,381.55 521.00,381.47 521.50,381.31 522.00,381.60 522.50,381.64 523.00,381.14 523.50,381.60 524.00,381.45 524.50,381.48 525.00,381.28 525.50,381.38 526.00,381.80 526.50,381.64 527.00,381.50 527.50,381.54 528.00,381.40 528.50,381.50 529.00,381.39 529.50,381.55 530.00,381.34 530.50,381.54 531.00,381.62 531.50,381.45 532.00,381.52 532.50,381.52 533.00,381.39 533.50,381.24 534.00,381.60 534.50,381.42 535.00,381.30 535.50,381.39 536.00,380.75 536.50,380.17 537.00,379.14 537.50,377.94 538.00,377.27 538.20,377.20 538.50,377.60 539.00,378.21 539.50,379.65 540.00,380.25 540.50,380.90 541.00,381.23 541.50,381.21 542.00,381.49" fill="none" stroke="#c81418" stroke-width="1.3" stroke-linejoin="round"/>
<rect x="18" y="7.8" width="250" height="380.2" fill="none" stroke="#2a2a2a" stroke-width="1.2"/>
<line x1="18" y1="83.5" x2="268" y2="83.5" stroke="#2a2a2a" stroke-width="1.2"/>
<line x1="18" y1="160" x2="268" y2="160" stroke="#2a2a2a" stroke-width="1.2"/>
<line x1="18" y1="236.5" x2="268" y2="236.5" stroke="#2a2a2a" stroke-width="1.2"/>
<line x1="18" y1="312.5" x2="268" y2="312.5" stroke="#2a2a2a" stroke-width="1.2"/>
<path d="M24.49,83.5v-2.5 M24.49,160v-2.5 M24.49,236.5v-2.5 M24.49,312.5v-2.5 M24.49,388v-2.5 M40.73,83.5v-4.5 M40.73,160v-4.5 M40.73,236.5v-4.5 M40.73,312.5v-4.5 M40.73,388v-4.5 M56.96,83.5v-2.5 M56.96,160v-2.5 M56.96,236.5v-2.5 M56.96,312.5v-2.5 M56.96,388v-2.5 M73.19,83.5v-4.5 M73.19,160v-4.5 M73.19,236.5v-4.5 M73.19,312.5v-4.5 M73.19,388v-4.5 M89.43,83.5v-2.5 M89.43,160v-2.5 M89.43,236.5v-2.5 M89.43,312.5v-2.5 M89.43,388v-2.5 M105.66,83.5v-4.5 M105.66,160v-4.5 M105.66,236.5v-4.5 M105.66,312.5v-4.5 M105.66,388v-4.5 M121.90,83.5v-2.5 M121.90,160v-2.5 M121.90,236.5v-2.5 M121.90,312.5v-2.5 M121.90,388v-2.5 M138.13,83.5v-4.5 M138.13,160v-4.5 M138.13,236.5v-4.5 M138.13,312.5v-4.5 M138.13,388v-4.5 M154.36,83.5v-2.5 M154.36,160v-2.5 M154.36,236.5v-2.5 M154.36,312.5v-2.5 M154.36,388v-2.5 M170.60,83.5v-4.5 M170.60,160v-4.5 M170.60,236.5v-4.5 M170.60,312.5v-4.5 M170.60,388v-4.5 M186.83,83.5v-2.5 M186.83,160v-2.5 M186.83,236.5v-2.5 M186.83,312.5v-2.5 M186.83,388v-2.5 M203.06,83.5v-4.5 M203.06,160v-4.5 M203.06,236.5v-4.5 M203.06,312.5v-4.5 M203.06,388v-4.5 M219.30,83.5v-2.5 M219.30,160v-2.5 M219.30,236.5v-2.5 M219.30,312.5v-2.5 M219.30,388v-2.5 M235.53,83.5v-4.5 M235.53,160v-4.5 M235.53,236.5v-4.5 M235.53,312.5v-4.5 M235.53,388v-4.5 M251.77,83.5v-2.5 M251.77,160v-2.5 M251.77,236.5v-2.5 M251.77,312.5v-2.5 M251.77,388v-2.5 M268.00,83.5v-4.5 M268.00,160v-4.5 M268.00,236.5v-4.5 M268.00,312.5v-4.5 M268.00,388v-4.5" stroke="#2a2a2a" stroke-width="1.1" fill="none"/>
<rect x="295.5" y="9.2" width="247.0" height="376.3" fill="none" stroke="#2a2a2a" stroke-width="1.2"/>
<line x1="295.5" y1="84.5" x2="542.5" y2="84.5" stroke="#2a2a2a" stroke-width="1.2"/>
<line x1="295.5" y1="160" x2="542.5" y2="160" stroke="#2a2a2a" stroke-width="1.2"/>
<line x1="295.5" y1="235.5" x2="542.5" y2="235.5" stroke="#2a2a2a" stroke-width="1.2"/>
<line x1="295.5" y1="310.5" x2="542.5" y2="310.5" stroke="#2a2a2a" stroke-width="1.2"/>
<path d="M304.17,84.5v-2.5 M304.17,160v-2.5 M304.17,235.5v-2.5 M304.17,310.5v-2.5 M304.17,385.5v-2.5 M325.83,84.5v-4.5 M325.83,160v-4.5 M325.83,235.5v-4.5 M325.83,310.5v-4.5 M325.83,385.5v-4.5 M347.50,84.5v-2.5 M347.50,160v-2.5 M347.50,235.5v-2.5 M347.50,310.5v-2.5 M347.50,385.5v-2.5 M369.17,84.5v-4.5 M369.17,160v-4.5 M369.17,235.5v-4.5 M369.17,310.5v-4.5 M369.17,385.5v-4.5 M390.83,84.5v-2.5 M390.83,160v-2.5 M390.83,235.5v-2.5 M390.83,310.5v-2.5 M390.83,385.5v-2.5 M412.50,84.5v-4.5 M412.50,160v-4.5 M412.50,235.5v-4.5 M412.50,310.5v-4.5 M412.50,385.5v-4.5 M434.17,84.5v-2.5 M434.17,160v-2.5 M434.17,235.5v-2.5 M434.17,310.5v-2.5 M434.17,385.5v-2.5 M455.83,84.5v-4.5 M455.83,160v-4.5 M455.83,235.5v-4.5 M455.83,310.5v-4.5 M455.83,385.5v-4.5 M477.50,84.5v-2.5 M477.50,160v-2.5 M477.50,235.5v-2.5 M477.50,310.5v-2.5 M477.50,385.5v-2.5 M499.17,84.5v-4.5 M499.17,160v-4.5 M499.17,235.5v-4.5 M499.17,310.5v-4.5 M499.17,385.5v-4.5 M520.83,84.5v-2.5 M520.83,160v-2.5 M520.83,235.5v-2.5 M520.83,310.5v-2.5 M520.83,385.5v-2.5 M542.50,84.5v-4.5 M542.50,160v-4.5 M542.50,235.5v-4.5 M542.50,310.5v-4.5 M542.50,385.5v-4.5" stroke="#2a2a2a" stroke-width="1.1" fill="none"/>
<line x1="168.8" y1="17.5" x2="194.2" y2="17.5" stroke="#d82828" stroke-width="1.2"/><text x="196.3" y="21.5" style="font-family:'Liberation Serif',serif;font-size:10.1px" fill="#000">Stannosilicate V</text>
<line x1="166.2" y1="93.3" x2="191.2" y2="93.3" stroke="#d82828" stroke-width="1.2"/><text x="193.4" y="97.3" style="font-family:'Liberation Serif',serif;font-size:10.1px" fill="#000">Stannosilicate IV</text>
<line x1="165.6" y1="168.6" x2="191.6" y2="168.6" stroke="#d82828" stroke-width="1.2"/><text x="194.3" y="172.6" style="font-family:'Liberation Serif',serif;font-size:10.1px" fill="#000">Stannosilicate III</text>
<line x1="170.6" y1="245.2" x2="196.6" y2="245.2" stroke="#d82828" stroke-width="1.2"/><text x="197" y="249.2" style="font-family:'Liberation Serif',serif;font-size:10.1px" fill="#000">Stannosilicate II</text>
<line x1="173.4" y1="321.1" x2="198.7" y2="321.1" stroke="#d82828" stroke-width="1.2"/><text x="201.3" y="325.1" style="font-family:'Liberation Serif',serif;font-size:10.1px" fill="#000">Stannosilicate I</text>
<line x1="425.3" y1="17.1" x2="451.4" y2="17.1" stroke="#d82828" stroke-width="1.2"/><text x="453.4" y="21.1" style="font-family:'Liberation Serif',serif;font-size:10.3px" fill="#000">Stannosilicate V-Ni<tspan dy="-3.6" style="font-size:5.768000000000001px">2+</tspan></text>
<line x1="422.4" y1="93.6" x2="447.8" y2="93.6" stroke="#d82828" stroke-width="1.2"/><text x="449.8" y="97.6" style="font-family:'Liberation Serif',serif;font-size:10.3px" fill="#000">Stannosilicate IV-Ni<tspan dy="-3.6" style="font-size:5.768000000000001px">2+</tspan></text>
<line x1="433.3" y1="170.2" x2="448.5" y2="170.2" stroke="#d82828" stroke-width="1.2"/><text x="450.8" y="174.2" style="font-family:'Liberation Serif',serif;font-size:10.3px" fill="#000">Stannosilicate III-Ni<tspan dy="-3.6" style="font-size:5.768000000000001px">2+</tspan></text>
<line x1="427.3" y1="244.9" x2="452.7" y2="244.9" stroke="#d82828" stroke-width="1.2"/><text x="454.0" y="248.9" style="font-family:'Liberation Serif',serif;font-size:10.3px" fill="#000">Stannosilicate II-Ni<tspan dy="-3.6" style="font-size:5.768000000000001px">2+</tspan></text>
<line x1="430.2" y1="319.9" x2="455" y2="319.9" stroke="#d82828" stroke-width="1.2"/><text x="457.2" y="323.9" style="font-family:'Liberation Serif',serif;font-size:10.3px" fill="#000">Stannosilicate I-Ni<tspan dy="-3.6" style="font-size:5.768000000000001px">2+</tspan></text>
<text x="34.5" y="22" style="font-family:'Liberation Serif',serif;font-size:14.6px" fill="#000">(a)</text>
<text x="315" y="24" style="font-family:'Liberation Serif',serif;font-size:14.1px" fill="#000">(b)</text>
<text x="40.73" y="400.9" text-anchor="middle" style="font-family:'Liberation Sans',sans-serif;font-size:9.6px" fill="#000">10</text>
<text x="73.19" y="400.9" text-anchor="middle" style="font-family:'Liberation Sans',sans-serif;font-size:9.6px" fill="#000">20</text>
<text x="105.66" y="400.9" text-anchor="middle" style="font-family:'Liberation Sans',sans-serif;font-size:9.6px" fill="#000">30</text>
<text x="138.13" y="400.9" text-anchor="middle" style="font-family:'Liberation Sans',sans-serif;font-size:9.6px" fill="#000">40</text>
<text x="170.60" y="400.9" text-anchor="middle" style="font-family:'Liberation Sans',sans-serif;font-size:9.6px" fill="#000">50</text>
<text x="203.06" y="400.9" text-anchor="middle" style="font-family:'Liberation Sans',sans-serif;font-size:9.6px" fill="#000">60</text>
<text x="235.53" y="400.9" text-anchor="middle" style="font-family:'Liberation Sans',sans-serif;font-size:9.6px" fill="#000">70</text>
<text x="268.00" y="400.9" text-anchor="middle" style="font-family:'Liberation Sans',sans-serif;font-size:9.6px" fill="#000">80</text>
<text x="325.83" y="399.2" text-anchor="middle" style="font-family:'Liberation Sans',sans-serif;font-size:9.6px" fill="#000">10</text>
<text x="369.17" y="399.2" text-anchor="middle" style="font-family:'Liberation Sans',sans-serif;font-size:9.6px" fill="#000">20</text>
<text x="412.50" y="399.2" text-anchor="middle" style="font-family:'Liberation Sans',sans-serif;font-size:9.6px" fill="#000">30</text>
<text x="455.83" y="399.2" text-anchor="middle" style="font-family:'Liberation Sans',sans-serif;font-size:9.6px" fill="#000">40</text>
<text x="499.17" y="399.2" text-anchor="middle" style="font-family:'Liberation Sans',sans-serif;font-size:9.6px" fill="#000">50</text>
<text x="542.50" y="399.2" text-anchor="middle" style="font-family:'Liberation Sans',sans-serif;font-size:9.6px" fill="#000">60</text>
<text x="131.2" y="415" style="font-family:'Liberation Serif',serif;font-size:14.1px" fill="#000">2theta / °</text>
<text x="409" y="415" style="font-family:'Liberation Serif',serif;font-size:14.1px" fill="#000">2theta / °</text>
<text transform="translate(14.3,238.9) rotate(-90)" x="0" y="0" style="font-family:'Liberation Serif',serif;font-size:13.8px" fill="#000">Intensity / a.u.</text>
<text transform="translate(290.3,238.9) rotate(-90)" x="0" y="0" style="font-family:'Liberation Serif',serif;font-size:13.8px" fill="#000">Intensity / a.u.</text>
<text x="3" y="433" style="font-family:'Liberation Serif',serif;font-size:16.4px;font-weight:bold;letter-spacing:0.7px" fill="#000" stroke="#000" stroke-width="0.4">Figure 1.</text>
</svg></body></html>
